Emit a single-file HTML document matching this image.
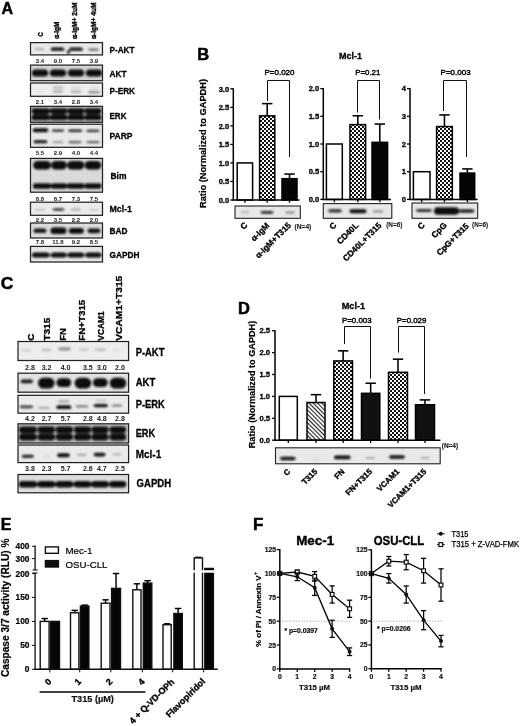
<!DOCTYPE html>
<html><head><meta charset="utf-8"><title>Figure</title>
<style>html,body{margin:0;padding:0;background:#fff}svg{display:block}</style></head><body>
<svg width="520" height="726" viewBox="0 0 520 726" font-family='"Liberation Sans", sans-serif'>
<defs>
<filter id="b1" x="-20%" y="-50%" width="140%" height="200%"><feGaussianBlur stdDeviation="0.8"/></filter>
<filter id="b2" x="-20%" y="-50%" width="140%" height="200%"><feGaussianBlur stdDeviation="0.6"/></filter>
<filter id="tb" x="-5%" y="-5%" width="110%" height="110%"><feGaussianBlur stdDeviation="0.3"/></filter>
<pattern id="chk" width="4" height="4" patternUnits="userSpaceOnUse"><rect width="4" height="4" fill="#fff"/><rect width="2" height="2" fill="#111"/><rect x="2" y="2" width="2" height="2" fill="#111"/></pattern>
<pattern id="hat" width="3" height="3" patternUnits="userSpaceOnUse" patternTransform="rotate(45)"><rect width="3" height="3" fill="#fff"/><rect width="3" height="1.1" fill="#222"/></pattern>
</defs>
<rect width="520" height="726" fill="#fff"/>
<text x="1.4" y="13.6" font-size="16" font-weight="bold" fill="#000" stroke="#000" stroke-width="0.5">A</text>
<text x="43.5" y="36.4" font-size="7.3" font-weight="bold" transform="rotate(-90 43.5 36.4)" textLength="4.2" lengthAdjust="spacingAndGlyphs" fill="#000" stroke="#000" stroke-width="0.4">C</text>
<text x="59.3" y="38.8" font-size="7.3" font-weight="bold" transform="rotate(-90 59.3 38.8)" textLength="17.2" lengthAdjust="spacingAndGlyphs" fill="#000" stroke="#000" stroke-width="0.4">α-IgM</text>
<text x="77.2" y="39.0" font-size="7.3" font-weight="bold" transform="rotate(-90 77.2 39.0)" textLength="36.5" lengthAdjust="spacingAndGlyphs" fill="#000" stroke="#000" stroke-width="0.4">α-IgM+ 2uM</text>
<text x="96.2" y="39.0" font-size="7.3" font-weight="bold" transform="rotate(-90 96.2 39.0)" textLength="36.5" lengthAdjust="spacingAndGlyphs" fill="#000" stroke="#000" stroke-width="0.4">α-IgM+ 4uM</text>
<clipPath id="c1"><rect x="30.5" y="42.6" width="72.00" height="12.30"/></clipPath>
<rect x="30.50" y="42.60" width="72.00" height="12.30" fill="#e9e9e9" stroke="none" stroke-width="1"/>
<g clip-path="url(#c1)"><g filter="url(#b1)">
<rect x="34.00" y="48.30" width="11.00" height="1.60" rx="2.20" ry="0.80" fill="#0a0a0a" opacity="0.3"/>
<rect x="50.70" y="47.60" width="13.60" height="3.20" rx="2.20" ry="1.60" fill="#0a0a0a" opacity="1.0"/>
<rect x="52.00" y="48.20" width="11.00" height="2.00" rx="2.20" ry="1.00" fill="#0a0a0a" opacity="0.9"/>
<rect x="69.00" y="47.60" width="14.00" height="3.20" rx="2.20" ry="1.60" fill="#0a0a0a" opacity="0.95"/>
<rect x="71.00" y="48.20" width="10.00" height="2.00" rx="2.20" ry="1.00" fill="#0a0a0a" opacity="0.6"/>
<rect x="66.80" y="50.30" width="3.40" height="3.40" rx="1.70" ry="1.70" fill="#0a0a0a" opacity="1.0"/>
<rect x="88.00" y="48.30" width="11.00" height="2.60" rx="2.20" ry="1.30" fill="#0a0a0a" opacity="0.45"/>
</g></g>
<rect x="30.50" y="42.60" width="72.00" height="12.30" fill="none" stroke="#222" stroke-width="1.25"/>
<text x="109.5" y="53.3" font-size="9.6" font-weight="bold" textLength="25" lengthAdjust="spacingAndGlyphs" fill="#000" stroke="#000" stroke-width="0.3">P-AKT</text>
<text x="40" y="63" font-size="6.0" font-weight="bold" text-anchor="middle" fill="#222" stroke="#222" stroke-width="0.01">3.4</text>
<text x="58" y="63" font-size="6.0" font-weight="bold" text-anchor="middle" fill="#222" stroke="#222" stroke-width="0.01">9.0</text>
<text x="76" y="63" font-size="6.0" font-weight="bold" text-anchor="middle" fill="#222" stroke="#222" stroke-width="0.01">7.5</text>
<text x="94" y="63" font-size="6.0" font-weight="bold" text-anchor="middle" fill="#222" stroke="#222" stroke-width="0.01">3.9</text>
<clipPath id="c2"><rect x="30.5" y="65.1" width="72.00" height="15.60"/></clipPath>
<rect x="30.50" y="65.10" width="72.00" height="15.60" fill="#d6d6d6" stroke="none" stroke-width="1"/>
<g clip-path="url(#c2)"><g filter="url(#b1)">
<rect x="31.80" y="69.40" width="16.40" height="7.20" rx="3.60" ry="3.60" fill="#0a0a0a" opacity="1.0"/>
<rect x="49.80" y="69.40" width="16.40" height="7.20" rx="3.60" ry="3.60" fill="#0a0a0a" opacity="1.0"/>
<rect x="67.80" y="69.40" width="16.40" height="7.20" rx="3.60" ry="3.60" fill="#0a0a0a" opacity="1.0"/>
<rect x="85.80" y="69.40" width="16.40" height="7.20" rx="3.60" ry="3.60" fill="#0a0a0a" opacity="1.0"/>
<rect x="33.00" y="70.40" width="14.00" height="5.20" rx="2.60" ry="2.60" fill="#0a0a0a" opacity="1.0"/>
<rect x="51.00" y="70.40" width="14.00" height="5.20" rx="2.60" ry="2.60" fill="#0a0a0a" opacity="1.0"/>
<rect x="69.00" y="70.40" width="14.00" height="5.20" rx="2.60" ry="2.60" fill="#0a0a0a" opacity="1.0"/>
<rect x="87.00" y="70.40" width="14.00" height="5.20" rx="2.60" ry="2.60" fill="#0a0a0a" opacity="1.0"/>
</g></g>
<rect x="30.50" y="65.10" width="72.00" height="15.60" fill="none" stroke="#222" stroke-width="1.25"/>
<text x="109.5" y="77" font-size="9.6" font-weight="bold" textLength="17" lengthAdjust="spacingAndGlyphs" fill="#000" stroke="#000" stroke-width="0.3">AKT</text>
<clipPath id="c3"><rect x="30.5" y="83" width="72.00" height="13.30"/></clipPath>
<rect x="30.50" y="83.00" width="72.00" height="13.30" fill="#eeeeee" stroke="none" stroke-width="1"/>
<g clip-path="url(#c3)"><g filter="url(#b1)">
<rect x="52.50" y="86.60" width="11.00" height="1.80" rx="2.20" ry="0.90" fill="#0a0a0a" opacity="0.28"/>
<rect x="52.50" y="90.50" width="11.00" height="2.00" rx="2.20" ry="1.00" fill="#0a0a0a" opacity="0.35"/>
<rect x="71.00" y="87.20" width="10.00" height="1.60" rx="2.20" ry="0.80" fill="#0a0a0a" opacity="0.15"/>
<rect x="70.50" y="90.80" width="11.00" height="2.00" rx="2.20" ry="1.00" fill="#0a0a0a" opacity="0.32"/>
<rect x="89.00" y="87.70" width="10.00" height="1.60" rx="2.20" ry="0.80" fill="#0a0a0a" opacity="0.15"/>
<rect x="88.00" y="91.00" width="12.00" height="2.60" rx="2.20" ry="1.30" fill="#0a0a0a" opacity="0.4"/>
<rect x="35.00" y="90.70" width="10.00" height="1.60" rx="2.20" ry="0.80" fill="#0a0a0a" opacity="0.08"/>
</g></g>
<rect x="30.50" y="83.00" width="72.00" height="13.30" fill="none" stroke="#222" stroke-width="1.25"/>
<text x="109.5" y="94" font-size="9.6" font-weight="bold" textLength="25.5" lengthAdjust="spacingAndGlyphs" fill="#000" stroke="#000" stroke-width="0.3">P-ERK</text>
<text x="40" y="104" font-size="6.0" font-weight="bold" text-anchor="middle" fill="#222" stroke="#222" stroke-width="0.01">2.1</text>
<text x="58" y="104" font-size="6.0" font-weight="bold" text-anchor="middle" fill="#222" stroke="#222" stroke-width="0.01">3.4</text>
<text x="76" y="104" font-size="6.0" font-weight="bold" text-anchor="middle" fill="#222" stroke="#222" stroke-width="0.01">2.8</text>
<text x="94" y="104" font-size="6.0" font-weight="bold" text-anchor="middle" fill="#222" stroke="#222" stroke-width="0.01">3.4</text>
<clipPath id="c4"><rect x="30.5" y="106.3" width="72.00" height="16.00"/></clipPath>
<rect x="30.50" y="106.30" width="72.00" height="16.00" fill="#c2c2c2" stroke="none" stroke-width="1"/>
<g clip-path="url(#c4)"><g filter="url(#b1)">
<rect x="31.50" y="108.30" width="18.60" height="5.60" rx="2.80" ry="2.80" fill="#0a0a0a" opacity="1.0"/>
<rect x="49.90" y="108.30" width="17.60" height="5.60" rx="2.80" ry="2.80" fill="#0a0a0a" opacity="1.0"/>
<rect x="67.30" y="108.30" width="17.50" height="5.60" rx="2.80" ry="2.80" fill="#0a0a0a" opacity="1.0"/>
<rect x="84.60" y="108.30" width="16.90" height="5.60" rx="2.80" ry="2.80" fill="#0a0a0a" opacity="1.0"/>
<rect x="31.50" y="114.50" width="18.60" height="5.80" rx="2.90" ry="2.90" fill="#0a0a0a" opacity="1.0"/>
<rect x="49.90" y="114.50" width="17.60" height="5.80" rx="2.90" ry="2.90" fill="#0a0a0a" opacity="1.0"/>
<rect x="67.30" y="114.50" width="17.50" height="5.80" rx="2.90" ry="2.90" fill="#0a0a0a" opacity="1.0"/>
<rect x="84.60" y="114.50" width="16.90" height="5.80" rx="2.90" ry="2.90" fill="#0a0a0a" opacity="1.0"/>
<rect x="32.80" y="109.10" width="16.00" height="4.00" rx="2.20" ry="2.00" fill="#0a0a0a" opacity="1.0"/>
<rect x="51.20" y="109.10" width="15.00" height="4.00" rx="2.20" ry="2.00" fill="#0a0a0a" opacity="1.0"/>
<rect x="68.60" y="109.10" width="14.90" height="4.00" rx="2.20" ry="2.00" fill="#0a0a0a" opacity="1.0"/>
<rect x="85.90" y="109.10" width="14.30" height="4.00" rx="2.20" ry="2.00" fill="#0a0a0a" opacity="1.0"/>
<rect x="32.80" y="115.30" width="16.00" height="4.20" rx="2.20" ry="2.10" fill="#0a0a0a" opacity="1.0"/>
<rect x="51.20" y="115.30" width="15.00" height="4.20" rx="2.20" ry="2.10" fill="#0a0a0a" opacity="1.0"/>
<rect x="68.60" y="115.30" width="14.90" height="4.20" rx="2.20" ry="2.10" fill="#0a0a0a" opacity="1.0"/>
<rect x="85.90" y="115.30" width="14.30" height="4.20" rx="2.20" ry="2.10" fill="#0a0a0a" opacity="1.0"/>
<rect x="33.50" y="112.90" width="14.60" height="2.60" rx="2.20" ry="1.30" fill="#0a0a0a" opacity="0.6"/>
<rect x="51.90" y="112.90" width="13.60" height="2.60" rx="2.20" ry="1.30" fill="#0a0a0a" opacity="0.6"/>
<rect x="69.30" y="112.90" width="13.50" height="2.60" rx="2.20" ry="1.30" fill="#0a0a0a" opacity="0.6"/>
<rect x="86.60" y="112.90" width="12.90" height="2.60" rx="2.20" ry="1.30" fill="#0a0a0a" opacity="0.6"/>
</g></g>
<rect x="30.50" y="106.30" width="72.00" height="16.00" fill="none" stroke="#222" stroke-width="1.25"/>
<text x="109.5" y="119.3" font-size="9.6" font-weight="bold" textLength="17" lengthAdjust="spacingAndGlyphs" fill="#000" stroke="#000" stroke-width="0.3">ERK</text>
<clipPath id="c5"><rect x="30.5" y="124.2" width="72.00" height="23.10"/></clipPath>
<rect x="30.50" y="124.20" width="72.00" height="23.10" fill="#e9e9e9" stroke="none" stroke-width="1"/>
<g clip-path="url(#c5)"><g filter="url(#b1)">
<rect x="32.70" y="128.30" width="15.60" height="4.00" rx="2.20" ry="2.00" fill="#0a0a0a" opacity="1.0"/>
<rect x="34.00" y="129.00" width="13.00" height="2.60" rx="2.20" ry="1.30" fill="#0a0a0a" opacity="0.9"/>
<rect x="51.70" y="129.50" width="12.60" height="2.20" rx="2.20" ry="1.10" fill="#0a0a0a" opacity="0.85"/>
<rect x="68.20" y="129.50" width="14.00" height="2.40" rx="2.20" ry="1.20" fill="#0a0a0a" opacity="0.9"/>
<rect x="86.40" y="129.70" width="13.20" height="2.40" rx="2.20" ry="1.20" fill="#0a0a0a" opacity="0.85"/>
<rect x="33.50" y="140.20" width="14.00" height="3.00" rx="2.20" ry="1.50" fill="#0a0a0a" opacity="0.95"/>
<rect x="34.00" y="140.80" width="10.00" height="1.80" rx="2.20" ry="0.90" fill="#0a0a0a" opacity="0.6"/>
<rect x="52.50" y="141.30" width="11.00" height="1.80" rx="2.20" ry="0.90" fill="#0a0a0a" opacity="0.38"/>
<rect x="68.40" y="141.00" width="13.20" height="2.20" rx="2.20" ry="1.10" fill="#0a0a0a" opacity="0.65"/>
<rect x="86.40" y="141.10" width="13.20" height="2.20" rx="2.20" ry="1.10" fill="#0a0a0a" opacity="0.6"/>
</g></g>
<rect x="30.50" y="124.20" width="72.00" height="23.10" fill="none" stroke="#222" stroke-width="1.25"/>
<text x="109.5" y="138.8" font-size="9.6" font-weight="bold" textLength="23" lengthAdjust="spacingAndGlyphs" fill="#000" stroke="#000" stroke-width="0.3">PARP</text>
<text x="40" y="155.2" font-size="6.0" font-weight="bold" text-anchor="middle" fill="#222" stroke="#222" stroke-width="0.01">5.5</text>
<text x="58" y="155.2" font-size="6.0" font-weight="bold" text-anchor="middle" fill="#222" stroke="#222" stroke-width="0.01">2.9</text>
<text x="76" y="155.2" font-size="6.0" font-weight="bold" text-anchor="middle" fill="#222" stroke="#222" stroke-width="0.01">4.0</text>
<text x="94" y="155.2" font-size="6.0" font-weight="bold" text-anchor="middle" fill="#222" stroke="#222" stroke-width="0.01">4.4</text>
<clipPath id="c6"><rect x="30.5" y="158.4" width="72.00" height="33.80"/></clipPath>
<rect x="30.50" y="158.40" width="72.00" height="33.80" fill="#dadada" stroke="none" stroke-width="1"/>
<g clip-path="url(#c6)"><g filter="url(#b1)">
<rect x="33.20" y="161.00" width="17.70" height="8.40" rx="4.20" ry="4.20" fill="#0a0a0a" opacity="1.0"/>
<rect x="51.20" y="161.00" width="15.60" height="8.40" rx="4.20" ry="4.20" fill="#0a0a0a" opacity="1.0"/>
<rect x="67.20" y="161.00" width="17.10" height="8.40" rx="4.20" ry="4.20" fill="#0a0a0a" opacity="1.0"/>
<rect x="84.70" y="161.00" width="16.60" height="8.40" rx="4.20" ry="4.20" fill="#0a0a0a" opacity="1.0"/>
<rect x="34.50" y="162.00" width="15.10" height="6.40" rx="3.20" ry="3.20" fill="#0a0a0a" opacity="1.0"/>
<rect x="52.50" y="162.00" width="13.00" height="6.40" rx="3.20" ry="3.20" fill="#0a0a0a" opacity="1.0"/>
<rect x="68.50" y="162.00" width="14.50" height="6.40" rx="3.20" ry="3.20" fill="#0a0a0a" opacity="1.0"/>
<rect x="86.00" y="162.00" width="14.00" height="6.40" rx="3.20" ry="3.20" fill="#0a0a0a" opacity="1.0"/>
<rect x="32.90" y="183.30" width="18.30" height="5.40" rx="2.70" ry="2.70" fill="#0a0a0a" opacity="1.0"/>
<rect x="50.90" y="183.30" width="16.20" height="5.40" rx="2.70" ry="2.70" fill="#0a0a0a" opacity="1.0"/>
<rect x="66.90" y="183.30" width="17.70" height="5.40" rx="2.70" ry="2.70" fill="#0a0a0a" opacity="1.0"/>
<rect x="84.40" y="183.30" width="17.20" height="5.40" rx="2.70" ry="2.70" fill="#0a0a0a" opacity="1.0"/>
<rect x="34.10" y="184.20" width="15.90" height="3.60" rx="2.20" ry="1.80" fill="#0a0a0a" opacity="0.9"/>
<rect x="52.10" y="184.20" width="13.80" height="3.60" rx="2.20" ry="1.80" fill="#0a0a0a" opacity="0.9"/>
<rect x="68.10" y="184.20" width="15.30" height="3.60" rx="2.20" ry="1.80" fill="#0a0a0a" opacity="0.9"/>
<rect x="85.60" y="184.20" width="14.80" height="3.60" rx="2.20" ry="1.80" fill="#0a0a0a" opacity="0.9"/>
<rect x="33.00" y="184.80" width="68.00" height="2.40" rx="2.20" ry="1.20" fill="#0a0a0a" opacity="0.7"/>
</g></g>
<rect x="30.50" y="158.40" width="72.00" height="33.80" fill="none" stroke="#222" stroke-width="1.25"/>
<text x="110.5" y="178.8" font-size="9.6" font-weight="bold" textLength="16" lengthAdjust="spacingAndGlyphs" fill="#000" stroke="#000" stroke-width="0.3">Bim</text>
<text x="40" y="200.8" font-size="6.0" font-weight="bold" text-anchor="middle" fill="#222" stroke="#222" stroke-width="0.01">8.8</text>
<text x="58" y="200.8" font-size="6.0" font-weight="bold" text-anchor="middle" fill="#222" stroke="#222" stroke-width="0.01">8.7</text>
<text x="76" y="200.8" font-size="6.0" font-weight="bold" text-anchor="middle" fill="#222" stroke="#222" stroke-width="0.01">7.3</text>
<text x="94" y="200.8" font-size="6.0" font-weight="bold" text-anchor="middle" fill="#222" stroke="#222" stroke-width="0.01">7.5</text>
<clipPath id="c7"><rect x="30.5" y="202.2" width="72.00" height="13.10"/></clipPath>
<rect x="30.50" y="202.20" width="72.00" height="13.10" fill="#ebebeb" stroke="none" stroke-width="1"/>
<g clip-path="url(#c7)"><g filter="url(#b1)">
<rect x="35.00" y="208.70" width="10.00" height="1.80" rx="2.20" ry="0.90" fill="#0a0a0a" opacity="0.2"/>
<rect x="52.50" y="208.10" width="12.00" height="2.80" rx="2.20" ry="1.40" fill="#0a0a0a" opacity="0.6"/>
<rect x="54.00" y="208.70" width="9.00" height="1.60" rx="2.20" ry="0.80" fill="#0a0a0a" opacity="0.35"/>
<rect x="71.00" y="208.60" width="10.00" height="2.00" rx="2.20" ry="1.00" fill="#0a0a0a" opacity="0.3"/>
<rect x="89.00" y="208.90" width="10.00" height="1.80" rx="2.20" ry="0.90" fill="#0a0a0a" opacity="0.16"/>
</g></g>
<rect x="30.50" y="202.20" width="72.00" height="13.10" fill="none" stroke="#222" stroke-width="1.25"/>
<text x="109.5" y="211.8" font-size="9.6" font-weight="bold" textLength="22.5" lengthAdjust="spacingAndGlyphs" fill="#000" stroke="#000" stroke-width="0.3">Mcl-1</text>
<text x="40" y="222.2" font-size="6.0" font-weight="bold" text-anchor="middle" fill="#222" stroke="#222" stroke-width="0.01">2.2</text>
<text x="58" y="222.2" font-size="6.0" font-weight="bold" text-anchor="middle" fill="#222" stroke="#222" stroke-width="0.01">3.5</text>
<text x="76" y="222.2" font-size="6.0" font-weight="bold" text-anchor="middle" fill="#222" stroke="#222" stroke-width="0.01">2.2</text>
<text x="94" y="222.2" font-size="6.0" font-weight="bold" text-anchor="middle" fill="#222" stroke="#222" stroke-width="0.01">2.0</text>
<clipPath id="c8"><rect x="30.5" y="223" width="72.00" height="15.00"/></clipPath>
<rect x="30.50" y="223.00" width="72.00" height="15.00" fill="#dcdcdc" stroke="none" stroke-width="1"/>
<g clip-path="url(#c8)"><g filter="url(#b1)">
<rect x="33.50" y="228.60" width="13.00" height="4.40" rx="2.20" ry="2.20" fill="#0a0a0a" opacity="0.9"/>
<rect x="34.50" y="229.40" width="11.00" height="2.80" rx="2.20" ry="1.40" fill="#0a0a0a" opacity="0.7"/>
<rect x="50.50" y="227.60" width="16.00" height="6.40" rx="3.20" ry="3.20" fill="#0a0a0a" opacity="1.0"/>
<rect x="51.70" y="228.40" width="13.60" height="4.80" rx="2.40" ry="2.40" fill="#0a0a0a" opacity="1.0"/>
<rect x="68.80" y="227.90" width="15.00" height="5.80" rx="2.90" ry="2.90" fill="#0a0a0a" opacity="1.0"/>
<rect x="70.10" y="228.80" width="12.40" height="4.00" rx="2.20" ry="2.00" fill="#0a0a0a" opacity="0.9"/>
<rect x="87.50" y="228.40" width="13.00" height="4.80" rx="2.40" ry="2.40" fill="#0a0a0a" opacity="0.95"/>
<rect x="88.50" y="229.30" width="11.00" height="3.00" rx="2.20" ry="1.50" fill="#0a0a0a" opacity="0.8"/>
</g></g>
<rect x="30.50" y="223.00" width="72.00" height="15.00" fill="none" stroke="#222" stroke-width="1.25"/>
<text x="109.5" y="233.6" font-size="9.6" font-weight="bold" textLength="18" lengthAdjust="spacingAndGlyphs" fill="#000" stroke="#000" stroke-width="0.3">BAD</text>
<text x="40" y="244" font-size="6.0" font-weight="bold" text-anchor="middle" fill="#222" stroke="#222" stroke-width="0.01">7.8</text>
<text x="58" y="244" font-size="6.0" font-weight="bold" text-anchor="middle" fill="#222" stroke="#222" stroke-width="0.01">11.8</text>
<text x="76" y="244" font-size="6.0" font-weight="bold" text-anchor="middle" fill="#222" stroke="#222" stroke-width="0.01">9.2</text>
<text x="94" y="244" font-size="6.0" font-weight="bold" text-anchor="middle" fill="#222" stroke="#222" stroke-width="0.01">8.5</text>
<clipPath id="c9"><rect x="30.5" y="246.4" width="72.00" height="15.60"/></clipPath>
<rect x="30.50" y="246.40" width="72.00" height="15.60" fill="#e6e6e6" stroke="none" stroke-width="1"/>
<g clip-path="url(#c9)"><g filter="url(#b1)">
<rect x="32.00" y="252.50" width="17.50" height="5.00" rx="2.50" ry="2.50" fill="#0a0a0a" opacity="1.0"/>
<rect x="51.00" y="252.50" width="15.50" height="5.00" rx="2.50" ry="2.50" fill="#0a0a0a" opacity="1.0"/>
<rect x="67.50" y="252.50" width="16.50" height="5.00" rx="2.50" ry="2.50" fill="#0a0a0a" opacity="1.0"/>
<rect x="85.50" y="252.50" width="16.00" height="5.00" rx="2.50" ry="2.50" fill="#0a0a0a" opacity="1.0"/>
<rect x="33.00" y="253.40" width="15.50" height="3.20" rx="2.20" ry="1.60" fill="#0a0a0a" opacity="0.9"/>
<rect x="52.00" y="253.40" width="13.50" height="3.20" rx="2.20" ry="1.60" fill="#0a0a0a" opacity="0.9"/>
<rect x="68.50" y="253.40" width="14.50" height="3.20" rx="2.20" ry="1.60" fill="#0a0a0a" opacity="0.9"/>
<rect x="86.50" y="253.40" width="14.00" height="3.20" rx="2.20" ry="1.60" fill="#0a0a0a" opacity="0.9"/>
<rect x="31.50" y="254.00" width="70.00" height="2.00" rx="2.20" ry="1.00" fill="#0a0a0a" opacity="0.7"/>
</g></g>
<rect x="30.50" y="246.40" width="72.00" height="15.60" fill="none" stroke="#222" stroke-width="1.25"/>
<text x="109.5" y="258" font-size="9.6" font-weight="bold" textLength="30" lengthAdjust="spacingAndGlyphs" fill="#000" stroke="#000" stroke-width="0.3">GAPDH</text>
<text x="197.3" y="60" font-size="16.5" font-weight="bold" fill="#000" stroke="#000" stroke-width="0.5">B</text>
<text x="350.5" y="59.2" font-size="9.2" font-weight="bold" text-anchor="middle" textLength="23" lengthAdjust="spacingAndGlyphs" fill="#000" stroke="#000" stroke-width="0.3">Mcl-1</text>
<text x="206" y="143.5" font-size="9.2" font-weight="bold" text-anchor="middle" transform="rotate(-90 206 143.5)" textLength="129" lengthAdjust="spacingAndGlyphs" fill="#000" stroke="#000" stroke-width="0.2">Ratio (Normalized to GAPDH)</text>
<rect x="237.20" y="162.93" width="15.40" height="37.07" fill="#fff" stroke="#000" stroke-width="1.5"/>
<line x1="244.89999999999998" y1="200" x2="244.89999999999998" y2="202.8" stroke="#000" stroke-width="1.3"/>
<line x1="267.20000000000005" y1="103.62666666666665" x2="267.20000000000005" y2="115.85866666666666" stroke="#000" stroke-width="1.55"/>
<line x1="262.00000000000006" y1="103.62666666666665" x2="272.40000000000003" y2="103.62666666666665" stroke="#000" stroke-width="1.55"/>
<rect x="259.60" y="115.86" width="15.20" height="84.14" fill="url(#chk)" stroke="#000" stroke-width="1.5"/>
<line x1="267.20000000000005" y1="200" x2="267.20000000000005" y2="202.8" stroke="#000" stroke-width="1.3"/>
<line x1="289.5" y1="174.05333333333334" x2="289.5" y2="178.68666666666667" stroke="#000" stroke-width="1.55"/>
<line x1="284.3" y1="174.05333333333334" x2="294.7" y2="174.05333333333334" stroke="#000" stroke-width="1.55"/>
<rect x="282.00" y="178.69" width="15.00" height="21.31" fill="#050505" stroke="#000" stroke-width="1.5"/>
<line x1="289.5" y1="200" x2="289.5" y2="202.8" stroke="#000" stroke-width="1.3"/>
<line x1="233.3" y1="88.3" x2="233.3" y2="200.7" stroke="#000" stroke-width="1.5"/>
<line x1="232.60000000000002" y1="200" x2="299.5" y2="200" stroke="#000" stroke-width="1.5"/>
<line x1="230.3" y1="200.0" x2="233.3" y2="200.0" stroke="#000" stroke-width="1.3"/>
<text x="229.2" y="202.7" font-size="7.6" font-weight="bold" text-anchor="end" fill="#000" stroke="#000" stroke-width="0.3">0.0</text>
<line x1="230.3" y1="181.46666666666667" x2="233.3" y2="181.46666666666667" stroke="#000" stroke-width="1.3"/>
<text x="229.2" y="184.16666666666666" font-size="7.6" font-weight="bold" text-anchor="end" fill="#000" stroke="#000" stroke-width="0.3">0.5</text>
<line x1="230.3" y1="162.93333333333334" x2="233.3" y2="162.93333333333334" stroke="#000" stroke-width="1.3"/>
<text x="229.2" y="165.63333333333333" font-size="7.6" font-weight="bold" text-anchor="end" fill="#000" stroke="#000" stroke-width="0.3">1.0</text>
<line x1="230.3" y1="144.39999999999998" x2="233.3" y2="144.39999999999998" stroke="#000" stroke-width="1.3"/>
<text x="229.2" y="147.09999999999997" font-size="7.6" font-weight="bold" text-anchor="end" fill="#000" stroke="#000" stroke-width="0.3">1.5</text>
<line x1="230.3" y1="125.86666666666666" x2="233.3" y2="125.86666666666666" stroke="#000" stroke-width="1.3"/>
<text x="229.2" y="128.56666666666666" font-size="7.6" font-weight="bold" text-anchor="end" fill="#000" stroke="#000" stroke-width="0.3">2.0</text>
<line x1="230.3" y1="107.33333333333333" x2="233.3" y2="107.33333333333333" stroke="#000" stroke-width="1.3"/>
<text x="229.2" y="110.03333333333333" font-size="7.6" font-weight="bold" text-anchor="end" fill="#000" stroke="#000" stroke-width="0.3">2.5</text>
<line x1="230.3" y1="88.79999999999998" x2="233.3" y2="88.79999999999998" stroke="#000" stroke-width="1.3"/>
<text x="229.2" y="91.49999999999999" font-size="7.6" font-weight="bold" text-anchor="end" fill="#000" stroke="#000" stroke-width="0.3">3.0</text>
<text x="279.5" y="75.2" font-size="7.6" text-anchor="middle" textLength="30" lengthAdjust="spacingAndGlyphs" fill="#000" stroke="#000" stroke-width="0.4">P=0.020</text>
<polyline points="267.5,101 267.5,80.5 289.5,80.5 289.5,157" fill="none" stroke="#111" stroke-width="1.0"/>
<rect x="326.40" y="144.00" width="15.90" height="55.40" fill="#fff" stroke="#000" stroke-width="1.5"/>
<line x1="334.35" y1="199.4" x2="334.35" y2="202.20000000000002" stroke="#000" stroke-width="1.3"/>
<line x1="357.8" y1="115.746" x2="357.8" y2="124.61" stroke="#000" stroke-width="1.55"/>
<line x1="352.6" y1="115.746" x2="363.0" y2="115.746" stroke="#000" stroke-width="1.55"/>
<rect x="350.00" y="124.61" width="15.60" height="74.79" fill="url(#chk)" stroke="#000" stroke-width="1.5"/>
<line x1="357.8" y1="199.4" x2="357.8" y2="202.20000000000002" stroke="#000" stroke-width="1.3"/>
<line x1="379.8" y1="124.056" x2="379.8" y2="142.338" stroke="#000" stroke-width="1.55"/>
<line x1="374.6" y1="124.056" x2="385.0" y2="124.056" stroke="#000" stroke-width="1.55"/>
<rect x="372.00" y="142.34" width="15.60" height="57.06" fill="#050505" stroke="#000" stroke-width="1.5"/>
<line x1="379.8" y1="199.4" x2="379.8" y2="202.20000000000002" stroke="#000" stroke-width="1.3"/>
<line x1="323.3" y1="88.1" x2="323.3" y2="200.1" stroke="#000" stroke-width="1.5"/>
<line x1="322.6" y1="199.4" x2="391" y2="199.4" stroke="#000" stroke-width="1.5"/>
<line x1="320.3" y1="199.4" x2="323.3" y2="199.4" stroke="#000" stroke-width="1.3"/>
<text x="319.2" y="202.1" font-size="7.6" font-weight="bold" text-anchor="end" fill="#000" stroke="#000" stroke-width="0.3">0.0</text>
<line x1="320.3" y1="171.7" x2="323.3" y2="171.7" stroke="#000" stroke-width="1.3"/>
<text x="319.2" y="174.39999999999998" font-size="7.6" font-weight="bold" text-anchor="end" fill="#000" stroke="#000" stroke-width="0.3">0.5</text>
<line x1="320.3" y1="144.0" x2="323.3" y2="144.0" stroke="#000" stroke-width="1.3"/>
<text x="319.2" y="146.7" font-size="7.6" font-weight="bold" text-anchor="end" fill="#000" stroke="#000" stroke-width="0.3">1.0</text>
<line x1="320.3" y1="116.3" x2="323.3" y2="116.3" stroke="#000" stroke-width="1.3"/>
<text x="319.2" y="119.0" font-size="7.6" font-weight="bold" text-anchor="end" fill="#000" stroke="#000" stroke-width="0.3">1.5</text>
<line x1="320.3" y1="88.6" x2="323.3" y2="88.6" stroke="#000" stroke-width="1.3"/>
<text x="319.2" y="91.3" font-size="7.6" font-weight="bold" text-anchor="end" fill="#000" stroke="#000" stroke-width="0.3">2.0</text>
<text x="367.8" y="75.2" font-size="7.6" text-anchor="middle" textLength="25" lengthAdjust="spacingAndGlyphs" fill="#000" stroke="#000" stroke-width="0.4">P=0.21</text>
<polyline points="357.5,112.5 357.5,80.5 379.5,80.5 379.5,119.5" fill="none" stroke="#111" stroke-width="1.0"/>
<rect x="413.40" y="171.70" width="16.60" height="27.70" fill="#fff" stroke="#000" stroke-width="1.5"/>
<line x1="421.7" y1="199.4" x2="421.7" y2="202.20000000000002" stroke="#000" stroke-width="1.3"/>
<line x1="444.45000000000005" y1="114.915" x2="444.45000000000005" y2="126.549" stroke="#000" stroke-width="1.55"/>
<line x1="439.25000000000006" y1="114.915" x2="449.65000000000003" y2="114.915" stroke="#000" stroke-width="1.55"/>
<rect x="436.60" y="126.55" width="15.70" height="72.85" fill="url(#chk)" stroke="#000" stroke-width="1.5"/>
<line x1="444.45000000000005" y1="199.4" x2="444.45000000000005" y2="202.20000000000002" stroke="#000" stroke-width="1.3"/>
<line x1="467.35" y1="168.93" x2="467.35" y2="173.085" stroke="#000" stroke-width="1.55"/>
<line x1="462.15000000000003" y1="168.93" x2="472.55" y2="168.93" stroke="#000" stroke-width="1.55"/>
<rect x="460.00" y="173.09" width="14.70" height="26.31" fill="#050505" stroke="#000" stroke-width="1.5"/>
<line x1="467.35" y1="199.4" x2="467.35" y2="202.20000000000002" stroke="#000" stroke-width="1.3"/>
<line x1="410" y1="88.1" x2="410" y2="200.1" stroke="#000" stroke-width="1.5"/>
<line x1="409.3" y1="199.4" x2="477.7" y2="199.4" stroke="#000" stroke-width="1.5"/>
<line x1="407" y1="199.4" x2="410" y2="199.4" stroke="#000" stroke-width="1.3"/>
<text x="406" y="202.1" font-size="7.6" font-weight="bold" text-anchor="end" fill="#000" stroke="#000" stroke-width="0.3">0</text>
<line x1="407" y1="171.7" x2="410" y2="171.7" stroke="#000" stroke-width="1.3"/>
<text x="406" y="174.39999999999998" font-size="7.6" font-weight="bold" text-anchor="end" fill="#000" stroke="#000" stroke-width="0.3">1</text>
<line x1="407" y1="144.0" x2="410" y2="144.0" stroke="#000" stroke-width="1.3"/>
<text x="406" y="146.7" font-size="7.6" font-weight="bold" text-anchor="end" fill="#000" stroke="#000" stroke-width="0.3">2</text>
<line x1="407" y1="116.3" x2="410" y2="116.3" stroke="#000" stroke-width="1.3"/>
<text x="406" y="119.0" font-size="7.6" font-weight="bold" text-anchor="end" fill="#000" stroke="#000" stroke-width="0.3">3</text>
<line x1="407" y1="88.6" x2="410" y2="88.6" stroke="#000" stroke-width="1.3"/>
<text x="406" y="91.3" font-size="7.6" font-weight="bold" text-anchor="end" fill="#000" stroke="#000" stroke-width="0.3">4</text>
<text x="455.6" y="75.2" font-size="7.6" text-anchor="middle" textLength="30" lengthAdjust="spacingAndGlyphs" fill="#000" stroke="#000" stroke-width="0.4">P=0.003</text>
<polyline points="443.5,111 443.5,80.5 466.5,80.5 466.5,157" fill="none" stroke="#111" stroke-width="1.0"/>
<clipPath id="c10"><rect x="235" y="206" width="65.30" height="12.30"/></clipPath>
<rect x="235.00" y="206.00" width="65.30" height="12.30" fill="#e8e8e8" stroke="none" stroke-width="1"/>
<g clip-path="url(#c10)"><g filter="url(#b1)">
<rect x="240.50" y="211.50" width="9.00" height="1.60" rx="2.20" ry="0.80" fill="#0a0a0a" opacity="0.3"/>
<rect x="260.50" y="210.90" width="13.00" height="2.80" rx="2.20" ry="1.40" fill="#0a0a0a" opacity="0.9"/>
<rect x="285.00" y="211.60" width="10.00" height="1.80" rx="2.20" ry="0.90" fill="#0a0a0a" opacity="0.45"/>
</g></g>
<rect x="235.00" y="206.00" width="65.30" height="12.30" fill="none" stroke="#222" stroke-width="1.1"/>
<clipPath id="c11"><rect x="323.3" y="203.6" width="68.50" height="14.70"/></clipPath>
<rect x="323.30" y="203.60" width="68.50" height="14.70" fill="#e8e8e8" stroke="none" stroke-width="1"/>
<g clip-path="url(#c11)"><g filter="url(#b1)">
<rect x="328.00" y="209.20" width="14.00" height="3.20" rx="2.20" ry="1.60" fill="#0a0a0a" opacity="0.8"/>
<rect x="330.00" y="209.80" width="10.00" height="2.00" rx="2.20" ry="1.00" fill="#0a0a0a" opacity="0.4"/>
<rect x="349.50" y="209.20" width="17.00" height="4.00" rx="2.20" ry="2.00" fill="#0a0a0a" opacity="1.0"/>
<rect x="351.50" y="209.90" width="13.00" height="2.60" rx="2.20" ry="1.30" fill="#0a0a0a" opacity="0.9"/>
<rect x="372.50" y="210.40" width="11.00" height="2.00" rx="2.20" ry="1.00" fill="#0a0a0a" opacity="0.42"/>
</g></g>
<rect x="323.30" y="203.60" width="68.50" height="14.70" fill="none" stroke="#222" stroke-width="1.1"/>
<clipPath id="c12"><rect x="412" y="203" width="65.70" height="15.30"/></clipPath>
<rect x="412.00" y="203.00" width="65.70" height="15.30" fill="#e8e8e8" stroke="none" stroke-width="1"/>
<g clip-path="url(#c12)"><g filter="url(#b1)">
<rect x="416.00" y="209.10" width="16.00" height="2.80" rx="2.20" ry="1.40" fill="#0a0a0a" opacity="0.8"/>
<rect x="418.00" y="209.60" width="12.00" height="1.80" rx="2.20" ry="0.90" fill="#0a0a0a" opacity="0.4"/>
<rect x="434.00" y="207.30" width="25.00" height="7.40" rx="3.70" ry="3.70" fill="#0a0a0a" opacity="1.0"/>
<rect x="436.00" y="208.30" width="21.00" height="5.40" rx="2.70" ry="2.70" fill="#0a0a0a" opacity="1.0"/>
<rect x="458.50" y="209.30" width="16.00" height="3.40" rx="2.20" ry="1.70" fill="#0a0a0a" opacity="0.85"/>
<rect x="460.50" y="209.90" width="12.00" height="2.20" rx="2.20" ry="1.10" fill="#0a0a0a" opacity="0.5"/>
</g></g>
<rect x="412.00" y="203.00" width="65.70" height="15.30" fill="none" stroke="#222" stroke-width="1.1"/>
<text x="248" y="225.8" font-size="8.4" font-weight="bold" text-anchor="end" transform="rotate(-45 248 225.8)" fill="#000" stroke="#000" stroke-width="0.35">C</text>
<text x="270" y="226" font-size="8.4" font-weight="bold" text-anchor="end" transform="rotate(-45 270 226)" fill="#000" stroke="#000" stroke-width="0.35">α-IgM</text>
<text x="291.5" y="226" font-size="8.4" font-weight="bold" text-anchor="end" transform="rotate(-45 291.5 226)" fill="#000" stroke="#000" stroke-width="0.35">α-IgM+T315</text>
<text x="294.5" y="229" font-size="6.4" font-weight="bold" textLength="16.8" lengthAdjust="spacingAndGlyphs" fill="#222" stroke="#222" stroke-width="0.1">(N=4)</text>
<text x="337" y="225.8" font-size="8.4" font-weight="bold" text-anchor="end" transform="rotate(-45 337 225.8)" fill="#000" stroke="#000" stroke-width="0.35">C</text>
<text x="359" y="226" font-size="8.4" font-weight="bold" text-anchor="end" transform="rotate(-45 359 226)" fill="#000" stroke="#000" stroke-width="0.35">CD40L</text>
<text x="382" y="226" font-size="8.4" font-weight="bold" text-anchor="end" transform="rotate(-45 382 226)" fill="#000" stroke="#000" stroke-width="0.35">CD40L+T315</text>
<text x="386.2" y="227" font-size="6.4" font-weight="bold" textLength="16.2" lengthAdjust="spacingAndGlyphs" fill="#222" stroke="#222" stroke-width="0.1">(N=6)</text>
<text x="425.3" y="225.8" font-size="8.4" font-weight="bold" text-anchor="end" transform="rotate(-45 425.3 225.8)" fill="#000" stroke="#000" stroke-width="0.35">C</text>
<text x="447.3" y="226" font-size="8.4" font-weight="bold" text-anchor="end" transform="rotate(-45 447.3 226)" fill="#000" stroke="#000" stroke-width="0.35">CpG</text>
<text x="469.4" y="226.6" font-size="8.4" font-weight="bold" text-anchor="end" transform="rotate(-45 469.4 226.6)" fill="#000" stroke="#000" stroke-width="0.35">CpG+T315</text>
<text x="472" y="227" font-size="6.4" font-weight="bold" textLength="16.2" lengthAdjust="spacingAndGlyphs" fill="#222" stroke="#222" stroke-width="0.1">(N=6)</text>
<text x="0.8" y="288.5" font-size="17.4" font-weight="bold" fill="#000" stroke="#000" stroke-width="0.5">C</text>
<text x="33.8" y="340.7" font-size="9.8" font-weight="bold" transform="rotate(-90 33.8 340.7)" fill="#000" stroke="#000" stroke-width="0.3">C</text>
<text x="49.6" y="340.7" font-size="9.8" font-weight="bold" transform="rotate(-90 49.6 340.7)" textLength="23" lengthAdjust="spacingAndGlyphs" fill="#000" stroke="#000" stroke-width="0.3">T315</text>
<text x="66.3" y="340.7" font-size="9.8" font-weight="bold" transform="rotate(-90 66.3 340.7)" textLength="12.5" lengthAdjust="spacingAndGlyphs" fill="#000" stroke="#000" stroke-width="0.3">FN</text>
<text x="85" y="340.7" font-size="9.8" font-weight="bold" transform="rotate(-90 85 340.7)" textLength="41" lengthAdjust="spacingAndGlyphs" fill="#000" stroke="#000" stroke-width="0.3">FN+T315</text>
<text x="104.5" y="340.7" font-size="9.8" font-weight="bold" transform="rotate(-90 104.5 340.7)" textLength="29.5" lengthAdjust="spacingAndGlyphs" fill="#000" stroke="#000" stroke-width="0.3">VCAM1</text>
<text x="122.5" y="340.7" font-size="9.8" font-weight="bold" transform="rotate(-90 122.5 340.7)" textLength="65" lengthAdjust="spacingAndGlyphs" fill="#000" stroke="#000" stroke-width="0.3">VCAM1+T315</text>
<clipPath id="c13"><rect x="18" y="341.5" width="110.60" height="19.00"/></clipPath>
<rect x="18.00" y="341.50" width="110.60" height="19.00" fill="#ededed" stroke="none" stroke-width="1"/>
<g clip-path="url(#c13)"><g filter="url(#b1)">
<rect x="21.50" y="349.30" width="10.00" height="2.40" rx="2.20" ry="1.20" fill="#0a0a0a" opacity="0.12"/>
<rect x="41.50" y="348.60" width="10.00" height="2.80" rx="2.20" ry="1.40" fill="#0a0a0a" opacity="0.18"/>
<rect x="58.00" y="347.20" width="13.00" height="3.20" rx="2.20" ry="1.60" fill="#0a0a0a" opacity="0.38"/>
<rect x="79.00" y="348.20" width="10.00" height="2.60" rx="2.20" ry="1.30" fill="#0a0a0a" opacity="0.16"/>
<rect x="95.00" y="348.60" width="11.00" height="2.40" rx="2.20" ry="1.20" fill="#0a0a0a" opacity="0.22"/>
<rect x="113.50" y="349.50" width="8.00" height="2.00" rx="2.20" ry="1.00" fill="#0a0a0a" opacity="0.05"/>
</g></g>
<rect x="18.00" y="341.50" width="110.60" height="19.00" fill="none" stroke="#222" stroke-width="1.25"/>
<text x="135.7" y="356" font-size="11.2" font-weight="bold" textLength="28.7" lengthAdjust="spacingAndGlyphs" fill="#000" stroke="#000" stroke-width="0.3">P-AKT</text>
<text x="30" y="369.8" font-size="7.1" font-weight="bold" text-anchor="middle" fill="#222" stroke="#222" stroke-width="0.01">2.8</text>
<text x="46.6" y="369.8" font-size="7.1" font-weight="bold" text-anchor="middle" fill="#222" stroke="#222" stroke-width="0.01">3.2</text>
<text x="65.6" y="369.8" font-size="7.1" font-weight="bold" text-anchor="middle" fill="#222" stroke="#222" stroke-width="0.01">4.0</text>
<text x="87.9" y="369.8" font-size="7.1" font-weight="bold" text-anchor="middle" fill="#222" stroke="#222" stroke-width="0.01">3.5</text>
<text x="101.9" y="369.8" font-size="7.1" font-weight="bold" text-anchor="middle" fill="#222" stroke="#222" stroke-width="0.01">3.0</text>
<text x="120" y="369.8" font-size="7.1" font-weight="bold" text-anchor="middle" fill="#222" stroke="#222" stroke-width="0.01">2.0</text>
<clipPath id="c14"><rect x="18" y="373.2" width="110.60" height="19.00"/></clipPath>
<rect x="18.00" y="373.20" width="110.60" height="19.00" fill="#e2e2e2" stroke="none" stroke-width="1"/>
<g clip-path="url(#c14)"><g filter="url(#b1)">
<rect x="20.60" y="379.40" width="12.40" height="3.80" rx="2.20" ry="1.90" fill="#0a0a0a" opacity="0.9"/>
<rect x="21.80" y="380.10" width="10.00" height="2.40" rx="2.20" ry="1.20" fill="#0a0a0a" opacity="0.6"/>
<rect x="38.00" y="377.70" width="16.60" height="10.80" rx="5.40" ry="5.40" fill="#0a0a0a" opacity="1.0"/>
<rect x="74.60" y="377.70" width="16.60" height="10.80" rx="5.40" ry="5.40" fill="#0a0a0a" opacity="1.0"/>
<rect x="109.70" y="377.70" width="16.60" height="10.80" rx="5.40" ry="5.40" fill="#0a0a0a" opacity="1.0"/>
<rect x="39.00" y="378.70" width="14.60" height="8.80" rx="4.40" ry="4.40" fill="#0a0a0a" opacity="1.0"/>
<rect x="75.60" y="378.70" width="14.60" height="8.80" rx="4.40" ry="4.40" fill="#0a0a0a" opacity="1.0"/>
<rect x="110.70" y="378.70" width="14.60" height="8.80" rx="4.40" ry="4.40" fill="#0a0a0a" opacity="1.0"/>
<rect x="56.40" y="378.20" width="14.80" height="8.80" rx="4.40" ry="4.40" fill="#0a0a0a" opacity="1.0"/>
<rect x="92.90" y="378.20" width="14.80" height="8.80" rx="4.40" ry="4.40" fill="#0a0a0a" opacity="1.0"/>
<rect x="57.40" y="379.20" width="12.80" height="6.80" rx="3.40" ry="3.40" fill="#0a0a0a" opacity="1.0"/>
<rect x="93.90" y="379.20" width="12.80" height="6.80" rx="3.40" ry="3.40" fill="#0a0a0a" opacity="1.0"/>
</g></g>
<rect x="18.00" y="373.20" width="110.60" height="19.00" fill="none" stroke="#222" stroke-width="1.25"/>
<text x="135.7" y="385.6" font-size="11.2" font-weight="bold" textLength="19.5" lengthAdjust="spacingAndGlyphs" fill="#000" stroke="#000" stroke-width="0.3">AKT</text>
<clipPath id="c15"><rect x="18" y="395.3" width="110.60" height="17.90"/></clipPath>
<rect x="18.00" y="395.30" width="110.60" height="17.90" fill="#ebebeb" stroke="none" stroke-width="1"/>
<g clip-path="url(#c15)"><g filter="url(#b1)">
<rect x="19.50" y="405.40" width="13.60" height="2.80" rx="2.20" ry="1.40" fill="#0a0a0a" opacity="0.8"/>
<rect x="38.00" y="406.80" width="12.00" height="2.00" rx="2.20" ry="1.00" fill="#0a0a0a" opacity="0.3"/>
<rect x="56.30" y="405.30" width="15.00" height="3.80" rx="2.20" ry="1.90" fill="#0a0a0a" opacity="1.0"/>
<rect x="57.80" y="406.00" width="12.00" height="2.40" rx="2.20" ry="1.20" fill="#0a0a0a" opacity="0.7"/>
<rect x="57.80" y="400.20" width="12.00" height="2.20" rx="2.20" ry="1.10" fill="#0a0a0a" opacity="0.3"/>
<rect x="75.50" y="405.30" width="13.00" height="2.20" rx="2.20" ry="1.10" fill="#0a0a0a" opacity="0.5"/>
<rect x="93.60" y="403.90" width="14.40" height="3.40" rx="2.20" ry="1.70" fill="#0a0a0a" opacity="0.95"/>
<rect x="95.30" y="404.60" width="11.00" height="2.00" rx="2.20" ry="1.00" fill="#0a0a0a" opacity="0.6"/>
<rect x="95.30" y="399.80" width="11.00" height="1.80" rx="2.20" ry="0.90" fill="#0a0a0a" opacity="0.2"/>
<rect x="111.50" y="404.50" width="11.00" height="2.20" rx="2.20" ry="1.10" fill="#0a0a0a" opacity="0.45"/>
</g></g>
<rect x="18.00" y="395.30" width="110.60" height="17.90" fill="none" stroke="#222" stroke-width="1.25"/>
<text x="135.7" y="407.5" font-size="11.2" font-weight="bold" textLength="29" lengthAdjust="spacingAndGlyphs" fill="#000" stroke="#000" stroke-width="0.3">P-ERK</text>
<text x="30" y="421" font-size="7.1" font-weight="bold" text-anchor="middle" fill="#222" stroke="#222" stroke-width="0.01">4.2</text>
<text x="46.6" y="421" font-size="7.1" font-weight="bold" text-anchor="middle" fill="#222" stroke="#222" stroke-width="0.01">2.7</text>
<text x="65.6" y="421" font-size="7.1" font-weight="bold" text-anchor="middle" fill="#222" stroke="#222" stroke-width="0.01">5.7</text>
<text x="87.9" y="421" font-size="7.1" font-weight="bold" text-anchor="middle" fill="#222" stroke="#222" stroke-width="0.01">2.8</text>
<text x="101.9" y="421" font-size="7.1" font-weight="bold" text-anchor="middle" fill="#222" stroke="#222" stroke-width="0.01">4.8</text>
<text x="120" y="421" font-size="7.1" font-weight="bold" text-anchor="middle" fill="#222" stroke="#222" stroke-width="0.01">2.8</text>
<clipPath id="c16"><rect x="18" y="423.8" width="110.60" height="19.20"/></clipPath>
<rect x="18.00" y="423.80" width="110.60" height="19.20" fill="#bdbdbd" stroke="none" stroke-width="1"/>
<g clip-path="url(#c16)"><g filter="url(#b1)">
<rect x="18.90" y="426.40" width="18.00" height="6.60" rx="3.30" ry="3.30" fill="#0a0a0a" opacity="1.0"/>
<rect x="37.40" y="426.40" width="17.70" height="6.60" rx="3.30" ry="3.30" fill="#0a0a0a" opacity="1.0"/>
<rect x="55.60" y="426.40" width="17.50" height="6.60" rx="3.30" ry="3.30" fill="#0a0a0a" opacity="1.0"/>
<rect x="73.90" y="426.40" width="17.20" height="6.60" rx="3.30" ry="3.30" fill="#0a0a0a" opacity="1.0"/>
<rect x="91.40" y="426.40" width="17.20" height="6.60" rx="3.30" ry="3.30" fill="#0a0a0a" opacity="1.0"/>
<rect x="109.40" y="426.40" width="16.70" height="6.60" rx="3.30" ry="3.30" fill="#0a0a0a" opacity="1.0"/>
<rect x="18.90" y="433.80" width="18.00" height="6.60" rx="3.30" ry="3.30" fill="#0a0a0a" opacity="1.0"/>
<rect x="37.40" y="433.80" width="17.70" height="6.60" rx="3.30" ry="3.30" fill="#0a0a0a" opacity="1.0"/>
<rect x="55.60" y="433.80" width="17.50" height="6.60" rx="3.30" ry="3.30" fill="#0a0a0a" opacity="1.0"/>
<rect x="73.90" y="433.80" width="17.20" height="6.60" rx="3.30" ry="3.30" fill="#0a0a0a" opacity="1.0"/>
<rect x="91.40" y="433.80" width="17.20" height="6.60" rx="3.30" ry="3.30" fill="#0a0a0a" opacity="1.0"/>
<rect x="109.40" y="433.80" width="16.70" height="6.60" rx="3.30" ry="3.30" fill="#0a0a0a" opacity="1.0"/>
<rect x="20.30" y="427.30" width="15.20" height="4.80" rx="2.40" ry="2.40" fill="#0a0a0a" opacity="1.0"/>
<rect x="38.80" y="427.30" width="14.90" height="4.80" rx="2.40" ry="2.40" fill="#0a0a0a" opacity="1.0"/>
<rect x="57.00" y="427.30" width="14.70" height="4.80" rx="2.40" ry="2.40" fill="#0a0a0a" opacity="1.0"/>
<rect x="75.30" y="427.30" width="14.40" height="4.80" rx="2.40" ry="2.40" fill="#0a0a0a" opacity="1.0"/>
<rect x="92.80" y="427.30" width="14.40" height="4.80" rx="2.40" ry="2.40" fill="#0a0a0a" opacity="1.0"/>
<rect x="110.80" y="427.30" width="13.90" height="4.80" rx="2.40" ry="2.40" fill="#0a0a0a" opacity="1.0"/>
<rect x="20.30" y="434.70" width="15.20" height="4.80" rx="2.40" ry="2.40" fill="#0a0a0a" opacity="1.0"/>
<rect x="38.80" y="434.70" width="14.90" height="4.80" rx="2.40" ry="2.40" fill="#0a0a0a" opacity="1.0"/>
<rect x="57.00" y="434.70" width="14.70" height="4.80" rx="2.40" ry="2.40" fill="#0a0a0a" opacity="1.0"/>
<rect x="75.30" y="434.70" width="14.40" height="4.80" rx="2.40" ry="2.40" fill="#0a0a0a" opacity="1.0"/>
<rect x="92.80" y="434.70" width="14.40" height="4.80" rx="2.40" ry="2.40" fill="#0a0a0a" opacity="1.0"/>
<rect x="110.80" y="434.70" width="13.90" height="4.80" rx="2.40" ry="2.40" fill="#0a0a0a" opacity="1.0"/>
<rect x="21.00" y="431.80" width="13.80" height="3.20" rx="2.20" ry="1.60" fill="#0a0a0a" opacity="0.55"/>
<rect x="39.50" y="431.80" width="13.50" height="3.20" rx="2.20" ry="1.60" fill="#0a0a0a" opacity="0.55"/>
<rect x="57.70" y="431.80" width="13.30" height="3.20" rx="2.20" ry="1.60" fill="#0a0a0a" opacity="0.55"/>
<rect x="76.00" y="431.80" width="13.00" height="3.20" rx="2.20" ry="1.60" fill="#0a0a0a" opacity="0.55"/>
<rect x="93.50" y="431.80" width="13.00" height="3.20" rx="2.20" ry="1.60" fill="#0a0a0a" opacity="0.55"/>
<rect x="111.50" y="431.80" width="12.50" height="3.20" rx="2.20" ry="1.60" fill="#0a0a0a" opacity="0.55"/>
</g></g>
<rect x="18.00" y="423.80" width="110.60" height="19.20" fill="none" stroke="#222" stroke-width="1.25"/>
<text x="135.7" y="437.2" font-size="11.2" font-weight="bold" textLength="19.5" lengthAdjust="spacingAndGlyphs" fill="#000" stroke="#000" stroke-width="0.3">ERK</text>
<clipPath id="c17"><rect x="18" y="445" width="110.60" height="17.60"/></clipPath>
<rect x="18.00" y="445.00" width="110.60" height="17.60" fill="#eaeaea" stroke="none" stroke-width="1"/>
<g clip-path="url(#c17)"><g filter="url(#b1)">
<rect x="21.80" y="454.80" width="12.00" height="3.00" rx="2.20" ry="1.50" fill="#0a0a0a" opacity="0.9"/>
<rect x="23.30" y="455.40" width="9.00" height="1.80" rx="2.20" ry="0.90" fill="#0a0a0a" opacity="0.5"/>
<rect x="42.00" y="455.40" width="8.00" height="1.80" rx="2.20" ry="0.90" fill="#0a0a0a" opacity="0.1"/>
<rect x="57.20" y="453.20" width="12.60" height="4.00" rx="2.20" ry="2.00" fill="#0a0a0a" opacity="1.0"/>
<rect x="58.50" y="453.90" width="10.00" height="2.60" rx="2.20" ry="1.30" fill="#0a0a0a" opacity="0.8"/>
<rect x="76.50" y="453.70" width="10.00" height="2.20" rx="2.20" ry="1.10" fill="#0a0a0a" opacity="0.28"/>
<rect x="93.60" y="452.80" width="12.00" height="3.60" rx="2.20" ry="1.80" fill="#0a0a0a" opacity="0.95"/>
<rect x="94.80" y="453.50" width="9.60" height="2.20" rx="2.20" ry="1.10" fill="#0a0a0a" opacity="0.6"/>
<rect x="112.50" y="453.60" width="9.00" height="2.00" rx="2.20" ry="1.00" fill="#0a0a0a" opacity="0.25"/>
</g></g>
<rect x="18.00" y="445.00" width="110.60" height="17.60" fill="none" stroke="#222" stroke-width="1.25"/>
<text x="135.7" y="457.7" font-size="11.2" font-weight="bold" textLength="25.5" lengthAdjust="spacingAndGlyphs" fill="#000" stroke="#000" stroke-width="0.3">Mcl-1</text>
<text x="30" y="471" font-size="7.1" font-weight="bold" text-anchor="middle" fill="#222" stroke="#222" stroke-width="0.01">3.8</text>
<text x="46.6" y="471" font-size="7.1" font-weight="bold" text-anchor="middle" fill="#222" stroke="#222" stroke-width="0.01">2.3</text>
<text x="65.6" y="471" font-size="7.1" font-weight="bold" text-anchor="middle" fill="#222" stroke="#222" stroke-width="0.01">5.7</text>
<text x="87.9" y="471" font-size="7.1" font-weight="bold" text-anchor="middle" fill="#222" stroke="#222" stroke-width="0.01">2.6</text>
<text x="101.9" y="471" font-size="7.1" font-weight="bold" text-anchor="middle" fill="#222" stroke="#222" stroke-width="0.01">4.7</text>
<text x="120" y="471" font-size="7.1" font-weight="bold" text-anchor="middle" fill="#222" stroke="#222" stroke-width="0.01">2.5</text>
<clipPath id="c18"><rect x="18" y="474.5" width="110.60" height="18.30"/></clipPath>
<rect x="18.00" y="474.50" width="110.60" height="18.30" fill="#dedede" stroke="none" stroke-width="1"/>
<g clip-path="url(#c18)"><g filter="url(#b1)">
<rect x="18.70" y="481.00" width="18.40" height="6.40" rx="3.20" ry="3.20" fill="#0a0a0a" opacity="1.0"/>
<rect x="37.20" y="481.00" width="18.10" height="6.40" rx="3.20" ry="3.20" fill="#0a0a0a" opacity="1.0"/>
<rect x="55.40" y="481.00" width="17.90" height="6.40" rx="3.20" ry="3.20" fill="#0a0a0a" opacity="1.0"/>
<rect x="73.70" y="481.00" width="17.60" height="6.40" rx="3.20" ry="3.20" fill="#0a0a0a" opacity="1.0"/>
<rect x="91.20" y="481.00" width="17.60" height="6.40" rx="3.20" ry="3.20" fill="#0a0a0a" opacity="1.0"/>
<rect x="109.20" y="481.00" width="17.10" height="6.40" rx="3.20" ry="3.20" fill="#0a0a0a" opacity="1.0"/>
<rect x="20.00" y="481.90" width="15.80" height="4.60" rx="2.30" ry="2.30" fill="#0a0a0a" opacity="1.0"/>
<rect x="38.50" y="481.90" width="15.50" height="4.60" rx="2.30" ry="2.30" fill="#0a0a0a" opacity="1.0"/>
<rect x="56.70" y="481.90" width="15.30" height="4.60" rx="2.30" ry="2.30" fill="#0a0a0a" opacity="1.0"/>
<rect x="75.00" y="481.90" width="15.00" height="4.60" rx="2.30" ry="2.30" fill="#0a0a0a" opacity="1.0"/>
<rect x="92.50" y="481.90" width="15.00" height="4.60" rx="2.30" ry="2.30" fill="#0a0a0a" opacity="1.0"/>
<rect x="110.50" y="481.90" width="14.50" height="4.60" rx="2.30" ry="2.30" fill="#0a0a0a" opacity="1.0"/>
<rect x="21.00" y="483.00" width="104.00" height="2.40" rx="2.20" ry="1.20" fill="#0a0a0a" opacity="0.8"/>
</g></g>
<rect x="18.00" y="474.50" width="110.60" height="18.30" fill="none" stroke="#222" stroke-width="1.25"/>
<text x="136.6" y="487.2" font-size="11.2" font-weight="bold" textLength="34.5" lengthAdjust="spacingAndGlyphs" fill="#000" stroke="#000" stroke-width="0.3">GAPDH</text>
<text x="238" y="313.6" font-size="16.5" font-weight="bold" fill="#000" stroke="#000" stroke-width="0.5">D</text>
<text x="353.4" y="309.4" font-size="9.2" font-weight="bold" text-anchor="middle" textLength="23.5" lengthAdjust="spacingAndGlyphs" fill="#000" stroke="#000" stroke-width="0.3">Mcl-1</text>
<text x="254.7" y="384.5" font-size="9.1" font-weight="bold" text-anchor="middle" transform="rotate(-90 254.7 384.5)" textLength="127.5" lengthAdjust="spacingAndGlyphs" fill="#000" stroke="#000" stroke-width="0.2">Ratio (Normalized to GAPDH)</text>
<rect x="279.30" y="396.40" width="18.00" height="43.80" fill="#fff" stroke="#000" stroke-width="1.5"/>
<line x1="288.3" y1="440.2" x2="288.3" y2="443.0" stroke="#000" stroke-width="1.3"/>
<line x1="316.0" y1="394.64799999999997" x2="316.0" y2="402.532" stroke="#000" stroke-width="1.55"/>
<line x1="310.8" y1="394.64799999999997" x2="321.2" y2="394.64799999999997" stroke="#000" stroke-width="1.55"/>
<rect x="307.00" y="402.53" width="18.00" height="37.67" fill="url(#hat)" stroke="#000" stroke-width="1.5"/>
<line x1="316.0" y1="440.2" x2="316.0" y2="443.0" stroke="#000" stroke-width="1.3"/>
<line x1="343.15" y1="350.848" x2="343.15" y2="360.922" stroke="#000" stroke-width="1.55"/>
<line x1="337.95" y1="350.848" x2="348.34999999999997" y2="350.848" stroke="#000" stroke-width="1.55"/>
<rect x="333.80" y="360.92" width="18.70" height="79.28" fill="url(#chk)" stroke="#000" stroke-width="1.5"/>
<line x1="343.15" y1="440.2" x2="343.15" y2="443.0" stroke="#000" stroke-width="1.3"/>
<line x1="370.65" y1="383.26" x2="370.65" y2="393.334" stroke="#000" stroke-width="1.55"/>
<line x1="365.45" y1="383.26" x2="375.84999999999997" y2="383.26" stroke="#000" stroke-width="1.55"/>
<rect x="361.50" y="393.33" width="18.30" height="46.87" fill="#111" stroke="#000" stroke-width="1.5"/>
<line x1="370.65" y1="440.2" x2="370.65" y2="443.0" stroke="#000" stroke-width="1.3"/>
<line x1="398.0" y1="359.16999999999996" x2="398.0" y2="372.31" stroke="#000" stroke-width="1.55"/>
<line x1="392.8" y1="359.16999999999996" x2="403.2" y2="359.16999999999996" stroke="#000" stroke-width="1.55"/>
<rect x="388.50" y="372.31" width="19.00" height="67.89" fill="url(#chk)" stroke="#000" stroke-width="1.5"/>
<line x1="398.0" y1="440.2" x2="398.0" y2="443.0" stroke="#000" stroke-width="1.3"/>
<line x1="425.0" y1="399.904" x2="425.0" y2="404.722" stroke="#000" stroke-width="1.55"/>
<line x1="419.8" y1="399.904" x2="430.2" y2="399.904" stroke="#000" stroke-width="1.55"/>
<rect x="415.50" y="404.72" width="19.00" height="35.48" fill="#111" stroke="#000" stroke-width="1.5"/>
<line x1="425.0" y1="440.2" x2="425.0" y2="443.0" stroke="#000" stroke-width="1.3"/>
<line x1="275" y1="330.2" x2="275" y2="440.9" stroke="#000" stroke-width="1.5"/>
<line x1="274.3" y1="440.2" x2="440.4" y2="440.2" stroke="#000" stroke-width="1.5"/>
<line x1="272" y1="440.2" x2="275" y2="440.2" stroke="#000" stroke-width="1.3"/>
<text x="270.0" y="442.9" font-size="7.6" font-weight="bold" text-anchor="end" fill="#000" stroke="#000" stroke-width="0.3">0.0</text>
<line x1="272" y1="418.3" x2="275" y2="418.3" stroke="#000" stroke-width="1.3"/>
<text x="270.0" y="421.0" font-size="7.6" font-weight="bold" text-anchor="end" fill="#000" stroke="#000" stroke-width="0.3">0.5</text>
<line x1="272" y1="396.4" x2="275" y2="396.4" stroke="#000" stroke-width="1.3"/>
<text x="270.0" y="399.09999999999997" font-size="7.6" font-weight="bold" text-anchor="end" fill="#000" stroke="#000" stroke-width="0.3">1.0</text>
<line x1="272" y1="374.5" x2="275" y2="374.5" stroke="#000" stroke-width="1.3"/>
<text x="270.0" y="377.2" font-size="7.6" font-weight="bold" text-anchor="end" fill="#000" stroke="#000" stroke-width="0.3">1.5</text>
<line x1="272" y1="352.6" x2="275" y2="352.6" stroke="#000" stroke-width="1.3"/>
<text x="270.0" y="355.3" font-size="7.6" font-weight="bold" text-anchor="end" fill="#000" stroke="#000" stroke-width="0.3">2.0</text>
<line x1="272" y1="330.7" x2="275" y2="330.7" stroke="#000" stroke-width="1.3"/>
<text x="270.0" y="333.4" font-size="7.6" font-weight="bold" text-anchor="end" fill="#000" stroke="#000" stroke-width="0.3">2.5</text>
<text x="356.8" y="323.2" font-size="7.6" text-anchor="middle" textLength="29.5" lengthAdjust="spacingAndGlyphs" fill="#000" stroke="#000" stroke-width="0.4">P=0.003</text>
<polyline points="344.5,344 344.5,326.5 370.5,326.5 370.5,378.6" fill="none" stroke="#111" stroke-width="1.0"/>
<text x="411.6" y="323.2" font-size="7.6" text-anchor="middle" textLength="29.5" lengthAdjust="spacingAndGlyphs" fill="#000" stroke="#000" stroke-width="0.4">P=0.029</text>
<polyline points="398.5,352.7 398.5,326.5 424.5,326.5 424.5,394" fill="none" stroke="#111" stroke-width="1.0"/>
<text x="441.8" y="447.5" font-size="6.4" font-weight="bold" textLength="16.3" lengthAdjust="spacingAndGlyphs" fill="#222" stroke="#222" stroke-width="0.15">(N=4)</text>
<clipPath id="c19"><rect x="275.5" y="447.8" width="164.70" height="16.00"/></clipPath>
<rect x="275.50" y="447.80" width="164.70" height="16.00" fill="#e9e9e9" stroke="none" stroke-width="1"/>
<g clip-path="url(#c19)"><g filter="url(#b1)">
<rect x="280.00" y="456.80" width="15.60" height="3.40" rx="2.20" ry="1.70" fill="#0a0a0a" opacity="0.95"/>
<rect x="281.00" y="457.50" width="10.00" height="2.20" rx="2.20" ry="1.10" fill="#0a0a0a" opacity="0.7"/>
<rect x="311.50" y="458.20" width="9.00" height="1.60" rx="2.20" ry="0.80" fill="#0a0a0a" opacity="0.08"/>
<rect x="334.00" y="455.50" width="16.60" height="3.80" rx="2.20" ry="1.90" fill="#0a0a0a" opacity="1.0"/>
<rect x="336.30" y="456.20" width="12.00" height="2.40" rx="2.20" ry="1.20" fill="#0a0a0a" opacity="0.8"/>
<rect x="365.50" y="457.10" width="10.00" height="1.80" rx="2.20" ry="0.90" fill="#0a0a0a" opacity="0.28"/>
<rect x="389.00" y="455.30" width="16.00" height="3.40" rx="2.20" ry="1.70" fill="#0a0a0a" opacity="0.95"/>
<rect x="391.00" y="455.90" width="12.00" height="2.20" rx="2.20" ry="1.10" fill="#0a0a0a" opacity="0.7"/>
<rect x="420.00" y="456.90" width="10.00" height="1.80" rx="2.20" ry="0.90" fill="#0a0a0a" opacity="0.3"/>
</g></g>
<rect x="275.50" y="447.80" width="164.70" height="16.00" fill="none" stroke="#222" stroke-width="1.1"/>
<text x="290.79999999999995" y="472.2" font-size="8.0" font-weight="bold" text-anchor="end" transform="rotate(-45 290.79999999999995 472.2)" fill="#000" stroke="#000" stroke-width="0.35">C</text>
<text x="317.9" y="472.2" font-size="8.0" font-weight="bold" text-anchor="end" transform="rotate(-45 317.9 472.2)" fill="#000" stroke="#000" stroke-width="0.35">T315</text>
<text x="345.09999999999997" y="472.2" font-size="8.0" font-weight="bold" text-anchor="end" transform="rotate(-45 345.09999999999997 472.2)" fill="#000" stroke="#000" stroke-width="0.35">FN</text>
<text x="372.59999999999997" y="472.2" font-size="8.0" font-weight="bold" text-anchor="end" transform="rotate(-45 372.59999999999997 472.2)" fill="#000" stroke="#000" stroke-width="0.35">FN+T315</text>
<text x="399.9" y="472.2" font-size="8.0" font-weight="bold" text-anchor="end" transform="rotate(-45 399.9 472.2)" fill="#000" stroke="#000" stroke-width="0.35">VCAM1</text>
<text x="426.9" y="472.2" font-size="8.0" font-weight="bold" text-anchor="end" transform="rotate(-45 426.9 472.2)" fill="#000" stroke="#000" stroke-width="0.35">VCAM1+T315</text>
<text x="0.7" y="529.8" font-size="16" font-weight="bold" fill="#000" stroke="#000" stroke-width="0.5">E</text>
<text x="8.9" y="607.8" font-size="10" font-weight="bold" text-anchor="middle" transform="rotate(-90 8.9 607.8)" textLength="138.5" lengthAdjust="spacingAndGlyphs" fill="#000" stroke="#000" stroke-width="0.2">Caspase 3/7 activity (RLU) %</text>
<line x1="44.650000000000006" y1="618.526" x2="44.650000000000006" y2="621.4" stroke="#000" stroke-width="1.45"/>
<line x1="41.45" y1="618.526" x2="47.85000000000001" y2="618.526" stroke="#000" stroke-width="1.45"/>
<rect x="40.20" y="621.40" width="8.90" height="47.90" fill="#fff" stroke="#111" stroke-width="1.4"/>
<rect x="50.60" y="621.40" width="8.90" height="47.90" fill="#050505" stroke="#111" stroke-width="1.4"/>
<line x1="74.7" y1="610.3829999999999" x2="74.7" y2="612.7779999999999" stroke="#000" stroke-width="1.45"/>
<line x1="71.5" y1="610.3829999999999" x2="77.9" y2="610.3829999999999" stroke="#000" stroke-width="1.45"/>
<rect x="70.50" y="612.78" width="8.40" height="56.52" fill="#fff" stroke="#111" stroke-width="1.4"/>
<line x1="84.65" y1="605.1139999999999" x2="84.65" y2="606.072" stroke="#000" stroke-width="1.45"/>
<line x1="81.45" y1="605.1139999999999" x2="87.85000000000001" y2="605.1139999999999" stroke="#000" stroke-width="1.45"/>
<rect x="80.40" y="606.07" width="8.50" height="63.23" fill="#050505" stroke="#111" stroke-width="1.4"/>
<line x1="105.6" y1="599.8449999999999" x2="105.6" y2="603.198" stroke="#000" stroke-width="1.45"/>
<line x1="102.39999999999999" y1="599.8449999999999" x2="108.8" y2="599.8449999999999" stroke="#000" stroke-width="1.45"/>
<rect x="101.20" y="603.20" width="8.80" height="66.10" fill="#fff" stroke="#111" stroke-width="1.4"/>
<line x1="116.05" y1="573.5" x2="116.05" y2="588.3489999999999" stroke="#000" stroke-width="1.45"/>
<line x1="112.85" y1="573.5" x2="119.25" y2="573.5" stroke="#000" stroke-width="1.45"/>
<rect x="111.60" y="588.35" width="8.90" height="80.95" fill="#050505" stroke="#111" stroke-width="1.4"/>
<line x1="136.9" y1="583.7985" x2="136.9" y2="589.786" stroke="#000" stroke-width="1.45"/>
<line x1="133.70000000000002" y1="583.7985" x2="140.1" y2="583.7985" stroke="#000" stroke-width="1.45"/>
<rect x="132.80" y="589.79" width="8.20" height="79.51" fill="#fff" stroke="#111" stroke-width="1.4"/>
<line x1="147.55" y1="580.685" x2="147.55" y2="583.0799999999999" stroke="#000" stroke-width="1.45"/>
<line x1="144.35000000000002" y1="580.685" x2="150.75" y2="580.685" stroke="#000" stroke-width="1.45"/>
<rect x="143.30" y="583.08" width="8.50" height="86.22" fill="#050505" stroke="#111" stroke-width="1.4"/>
<line x1="167.1" y1="623.795" x2="167.1" y2="624.7529999999999" stroke="#000" stroke-width="1.45"/>
<line x1="163.9" y1="623.795" x2="170.29999999999998" y2="623.795" stroke="#000" stroke-width="1.45"/>
<rect x="163.00" y="624.75" width="8.20" height="44.55" fill="#fff" stroke="#111" stroke-width="1.4"/>
<line x1="178.10000000000002" y1="608.467" x2="178.10000000000002" y2="613.4965" stroke="#000" stroke-width="1.45"/>
<line x1="174.90000000000003" y1="608.467" x2="181.3" y2="608.467" stroke="#000" stroke-width="1.45"/>
<rect x="173.90" y="613.50" width="8.40" height="55.80" fill="#050505" stroke="#111" stroke-width="1.4"/>
<line x1="198.35" y1="557.374" x2="198.35" y2="557.939" stroke="#000" stroke-width="1.45"/>
<line x1="195.15" y1="557.374" x2="201.54999999999998" y2="557.374" stroke="#000" stroke-width="1.45"/>
<rect x="194.20" y="557.94" width="8.30" height="111.36" fill="#fff" stroke="#111" stroke-width="1.4"/>
<rect x="204.80" y="568.45" width="8.60" height="100.85" fill="#050505" stroke="#111" stroke-width="1.4"/>
<rect x="192.00" y="570.20" width="24.00" height="2.50" fill="#fff" stroke="none" stroke-width="1"/>
<line x1="35.1" y1="545.5" x2="35.1" y2="570" stroke="#111" stroke-width="1.3"/>
<line x1="35.1" y1="573" x2="35.1" y2="669.8" stroke="#111" stroke-width="1.3"/>
<line x1="32.6" y1="570" x2="37.6" y2="570" stroke="#111" stroke-width="1.1"/>
<line x1="32.6" y1="573" x2="37.6" y2="573" stroke="#111" stroke-width="1.1"/>
<line x1="34.6" y1="669.3" x2="217.8" y2="669.3" stroke="#111" stroke-width="1.4"/>
<line x1="31.900000000000002" y1="546.3" x2="35.1" y2="546.3" stroke="#111" stroke-width="1.0"/>
<text x="29.5" y="549.3" font-size="8.4" font-weight="bold" text-anchor="end" fill="#000" stroke="#000" stroke-width="0.2">400</text>
<line x1="31.900000000000002" y1="558.6" x2="35.1" y2="558.6" stroke="#111" stroke-width="1.0"/>
<text x="29.5" y="561.6" font-size="8.4" font-weight="bold" text-anchor="end" fill="#000" stroke="#000" stroke-width="0.2">300</text>
<line x1="31.900000000000002" y1="573.6" x2="35.1" y2="573.6" stroke="#111" stroke-width="1.0"/>
<text x="29.5" y="576.6" font-size="8.4" font-weight="bold" text-anchor="end" fill="#000" stroke="#000" stroke-width="0.2">200</text>
<line x1="31.900000000000002" y1="597.4" x2="35.1" y2="597.4" stroke="#111" stroke-width="1.0"/>
<text x="29.5" y="600.4" font-size="8.4" font-weight="bold" text-anchor="end" fill="#000" stroke="#000" stroke-width="0.2">150</text>
<line x1="31.900000000000002" y1="621.4" x2="35.1" y2="621.4" stroke="#111" stroke-width="1.0"/>
<text x="29.5" y="624.4" font-size="8.4" font-weight="bold" text-anchor="end" fill="#000" stroke="#000" stroke-width="0.2">100</text>
<line x1="31.900000000000002" y1="645.4" x2="35.1" y2="645.4" stroke="#111" stroke-width="1.0"/>
<text x="29.5" y="648.4" font-size="8.4" font-weight="bold" text-anchor="end" fill="#000" stroke="#000" stroke-width="0.2">50</text>
<line x1="31.900000000000002" y1="669.3" x2="35.1" y2="669.3" stroke="#111" stroke-width="1.0"/>
<text x="29.5" y="672.3" font-size="8.4" font-weight="bold" text-anchor="end" fill="#000" stroke="#000" stroke-width="0.2">0</text>
<line x1="49.8" y1="669.3" x2="49.8" y2="672.3" stroke="#111" stroke-width="1.0"/>
<line x1="79.7" y1="669.3" x2="79.7" y2="672.3" stroke="#111" stroke-width="1.0"/>
<line x1="110.8" y1="669.3" x2="110.8" y2="672.3" stroke="#111" stroke-width="1.0"/>
<line x1="142.3" y1="669.3" x2="142.3" y2="672.3" stroke="#111" stroke-width="1.0"/>
<line x1="172.7" y1="669.3" x2="172.7" y2="672.3" stroke="#111" stroke-width="1.0"/>
<line x1="203.7" y1="669.3" x2="203.7" y2="672.3" stroke="#111" stroke-width="1.0"/>
<rect x="45.40" y="546.90" width="13.00" height="6.40" fill="#fff" stroke="#111" stroke-width="1.4"/>
<rect x="45.40" y="560.60" width="13.00" height="6.40" fill="#111" stroke="#111" stroke-width="1.4"/>
<text x="65.5" y="553.8" font-size="9.7" textLength="27" lengthAdjust="spacingAndGlyphs" fill="#000" stroke="#000" stroke-width="0.2">Mec-1</text>
<text x="65.5" y="567.5" font-size="9.7" textLength="42" lengthAdjust="spacingAndGlyphs" fill="#000" stroke="#000" stroke-width="0.2">OSU-CLL</text>
<text x="52.0" y="682.2" font-size="9" font-weight="bold" text-anchor="end" transform="rotate(-45 52.0 682.2)" fill="#000" stroke="#000" stroke-width="0.35">0</text>
<text x="81.9" y="682.2" font-size="9" font-weight="bold" text-anchor="end" transform="rotate(-45 81.9 682.2)" fill="#000" stroke="#000" stroke-width="0.35">1</text>
<text x="113.0" y="682.2" font-size="9" font-weight="bold" text-anchor="end" transform="rotate(-45 113.0 682.2)" fill="#000" stroke="#000" stroke-width="0.35">2</text>
<text x="145.2" y="682.2" font-size="9" font-weight="bold" text-anchor="end" transform="rotate(-45 145.2 682.2)" fill="#000" stroke="#000" stroke-width="0.35">4</text>
<text x="174.9" y="682.5" font-size="9.0" font-weight="bold" text-anchor="end" transform="rotate(-45 174.9 682.5)" fill="#000" stroke="#000" stroke-width="0.35">4 + Q-VD-OPh</text>
<text x="205.7" y="682" font-size="9.0" font-weight="bold" text-anchor="end" transform="rotate(-45 205.7 682)" fill="#000" stroke="#000" stroke-width="0.35">Flavopiridol</text>
<line x1="39.6" y1="692" x2="145.4" y2="692" stroke="#000" stroke-width="1.3"/>
<text x="92.7" y="701.7" font-size="9" font-weight="bold" text-anchor="middle" textLength="42.3" lengthAdjust="spacingAndGlyphs" fill="#111" stroke="#111" stroke-width="0.2">T315 (µM)</text>
<text x="253" y="530.2" font-size="17" font-weight="bold" fill="#000" stroke="#000" stroke-width="0.5">F</text>
<text x="315.2" y="544.8" font-size="13" font-weight="bold" text-anchor="middle" textLength="38" lengthAdjust="spacingAndGlyphs" fill="#000" stroke="#000" stroke-width="0.4">Mec-1</text>
<text x="399" y="545" font-size="13" font-weight="bold" text-anchor="middle" textLength="50.5" lengthAdjust="spacingAndGlyphs" fill="#000" stroke="#000" stroke-width="0.4">OSU-CLL</text>
<text x="260.6" y="611.2" font-size="7.8" font-weight="bold" text-anchor="middle" transform="rotate(-90 260.6 611.2)" textLength="71.5" lengthAdjust="spacingAndGlyphs" fill="#000" stroke="#000" stroke-width="0.2">% of PI / Annexin V</text>
<text x="257.2" y="573.4" font-size="4.6" font-weight="bold" text-anchor="middle" transform="rotate(-90 257.2 573.4)" fill="#111" stroke="#111" stroke-width="0.2">+</text>
<line x1="281.8" y1="621.18" x2="350.6" y2="621.18" stroke="#999" stroke-width="0.9" stroke-dasharray="1.2 1.6"/>
<line x1="279.8" y1="549.1" x2="279.8" y2="669.6" stroke="#000" stroke-width="1.45"/>
<line x1="279.1" y1="668.9" x2="350.3" y2="668.9" stroke="#000" stroke-width="1.45"/>
<line x1="276.8" y1="668.9" x2="279.8" y2="668.9" stroke="#000" stroke-width="1.25"/>
<text x="276" y="671.4" font-size="6.8" font-weight="bold" text-anchor="end" fill="#111" stroke="#111" stroke-width="0.2">0</text>
<line x1="276.8" y1="645.04" x2="279.8" y2="645.04" stroke="#000" stroke-width="1.25"/>
<text x="276" y="647.54" font-size="6.8" font-weight="bold" text-anchor="end" fill="#111" stroke="#111" stroke-width="0.2">25</text>
<line x1="276.8" y1="621.18" x2="279.8" y2="621.18" stroke="#000" stroke-width="1.25"/>
<text x="276" y="623.68" font-size="6.8" font-weight="bold" text-anchor="end" fill="#111" stroke="#111" stroke-width="0.2">50</text>
<line x1="276.8" y1="597.32" x2="279.8" y2="597.32" stroke="#000" stroke-width="1.25"/>
<text x="276" y="599.82" font-size="6.8" font-weight="bold" text-anchor="end" fill="#111" stroke="#111" stroke-width="0.2">75</text>
<line x1="276.8" y1="573.46" x2="279.8" y2="573.46" stroke="#000" stroke-width="1.25"/>
<text x="276" y="575.96" font-size="6.8" font-weight="bold" text-anchor="end" fill="#111" stroke="#111" stroke-width="0.2">100</text>
<line x1="276.8" y1="549.6" x2="279.8" y2="549.6" stroke="#000" stroke-width="1.25"/>
<text x="276" y="552.1" font-size="6.8" font-weight="bold" text-anchor="end" fill="#111" stroke="#111" stroke-width="0.2">125</text>
<line x1="279.8" y1="668.9" x2="279.8" y2="671.9" stroke="#000" stroke-width="1.25"/>
<text x="279.8" y="678.9" font-size="6.8" font-weight="bold" text-anchor="middle" fill="#111" stroke="#111" stroke-width="0.2">0</text>
<line x1="297.25" y1="668.9" x2="297.25" y2="671.9" stroke="#000" stroke-width="1.25"/>
<text x="297.25" y="678.9" font-size="6.8" font-weight="bold" text-anchor="middle" fill="#111" stroke="#111" stroke-width="0.2">1</text>
<line x1="314.7" y1="668.9" x2="314.7" y2="671.9" stroke="#000" stroke-width="1.25"/>
<text x="314.7" y="678.9" font-size="6.8" font-weight="bold" text-anchor="middle" fill="#111" stroke="#111" stroke-width="0.2">2</text>
<line x1="332.15" y1="668.9" x2="332.15" y2="671.9" stroke="#000" stroke-width="1.25"/>
<text x="332.15" y="678.9" font-size="6.8" font-weight="bold" text-anchor="middle" fill="#111" stroke="#111" stroke-width="0.2">3</text>
<line x1="349.6" y1="668.9" x2="349.6" y2="671.9" stroke="#000" stroke-width="1.25"/>
<text x="349.6" y="678.9" font-size="6.8" font-weight="bold" text-anchor="middle" fill="#111" stroke="#111" stroke-width="0.2">4</text>
<polyline points="279.80,573.46 297.25,572.03 314.70,576.32 332.15,594.46 349.60,608.77" fill="none" stroke="#000" stroke-width="1.3"/>
<rect x="277.60" y="571.26" width="4.40" height="4.40" fill="#111" stroke="#111" stroke-width="0.8"/>
<line x1="297.25" y1="570.1196" x2="297.25" y2="573.9372000000001" stroke="#000" stroke-width="1.25"/>
<line x1="294.65" y1="570.1196" x2="299.85" y2="570.1196" stroke="#000" stroke-width="1.25"/>
<line x1="294.65" y1="573.9372000000001" x2="299.85" y2="573.9372000000001" stroke="#000" stroke-width="1.25"/>
<rect x="295.35" y="570.13" width="3.80" height="3.80" fill="#fff" stroke="#111" stroke-width="1.2"/>
<line x1="314.7" y1="571.5512" x2="314.7" y2="581.0952" stroke="#000" stroke-width="1.25"/>
<line x1="312.09999999999997" y1="571.5512" x2="317.3" y2="571.5512" stroke="#000" stroke-width="1.25"/>
<line x1="312.09999999999997" y1="581.0952" x2="317.3" y2="581.0952" stroke="#000" stroke-width="1.25"/>
<rect x="312.80" y="574.42" width="3.80" height="3.80" fill="#fff" stroke="#111" stroke-width="1.2"/>
<line x1="332.15" y1="585.8672" x2="332.15" y2="603.0464" stroke="#000" stroke-width="1.25"/>
<line x1="329.54999999999995" y1="585.8672" x2="334.75" y2="585.8672" stroke="#000" stroke-width="1.25"/>
<line x1="329.54999999999995" y1="603.0464" x2="334.75" y2="603.0464" stroke="#000" stroke-width="1.25"/>
<rect x="330.25" y="592.56" width="3.80" height="3.80" fill="#fff" stroke="#111" stroke-width="1.2"/>
<line x1="349.6" y1="600.1832" x2="349.6" y2="617.3624" stroke="#000" stroke-width="1.25"/>
<line x1="347.0" y1="600.1832" x2="352.20000000000005" y2="600.1832" stroke="#000" stroke-width="1.25"/>
<line x1="347.0" y1="617.3624" x2="352.20000000000005" y2="617.3624" stroke="#000" stroke-width="1.25"/>
<rect x="347.70" y="606.87" width="3.80" height="3.80" fill="#fff" stroke="#111" stroke-width="1.2"/>
<polyline points="279.80,573.46 297.25,576.80 314.70,587.78 332.15,628.82 349.60,651.72" fill="none" stroke="#000" stroke-width="1.3"/>
<circle cx="279.80" cy="573.46" r="2.0" fill="#111"/>
<line x1="297.25" y1="572.9828" x2="297.25" y2="580.618" stroke="#000" stroke-width="1.25"/>
<line x1="294.65" y1="572.9828" x2="299.85" y2="572.9828" stroke="#000" stroke-width="1.25"/>
<line x1="294.65" y1="580.618" x2="299.85" y2="580.618" stroke="#000" stroke-width="1.25"/>
<circle cx="297.25" cy="576.80" r="2.0" fill="#111"/>
<line x1="314.7" y1="580.1408" x2="314.7" y2="595.4112" stroke="#000" stroke-width="1.25"/>
<line x1="312.09999999999997" y1="580.1408" x2="317.3" y2="580.1408" stroke="#000" stroke-width="1.25"/>
<line x1="312.09999999999997" y1="595.4112" x2="317.3" y2="595.4112" stroke="#000" stroke-width="1.25"/>
<circle cx="314.70" cy="587.78" r="2.0" fill="#111"/>
<line x1="332.15" y1="620.2256" x2="332.15" y2="637.4048" stroke="#000" stroke-width="1.25"/>
<line x1="329.54999999999995" y1="620.2256" x2="334.75" y2="620.2256" stroke="#000" stroke-width="1.25"/>
<line x1="329.54999999999995" y1="637.4048" x2="334.75" y2="637.4048" stroke="#000" stroke-width="1.25"/>
<circle cx="332.15" cy="628.82" r="2.0" fill="#111"/>
<line x1="349.6" y1="647.9032" x2="349.6" y2="655.5384" stroke="#000" stroke-width="1.25"/>
<line x1="347.0" y1="647.9032" x2="352.20000000000005" y2="647.9032" stroke="#000" stroke-width="1.25"/>
<line x1="347.0" y1="655.5384" x2="352.20000000000005" y2="655.5384" stroke="#000" stroke-width="1.25"/>
<circle cx="349.60" cy="651.72" r="2.0" fill="#111"/>
<text x="284.4" y="632.6" font-size="6.4" font-weight="bold" textLength="33.5" lengthAdjust="spacingAndGlyphs" fill="#111" stroke="#111" stroke-width="0.2">* p=0.0397</text>
<text x="314.6" y="690.4" font-size="7.6" font-weight="bold" text-anchor="middle" textLength="31" lengthAdjust="spacingAndGlyphs" fill="#111" stroke="#111" stroke-width="0.2">T315 µM</text>
<line x1="373.4" y1="621.14" x2="442.0" y2="621.14" stroke="#999" stroke-width="0.9" stroke-dasharray="1.2 1.6"/>
<line x1="371.4" y1="549.3" x2="371.4" y2="669.4000000000001" stroke="#000" stroke-width="1.45"/>
<line x1="370.7" y1="668.7" x2="441.7" y2="668.7" stroke="#000" stroke-width="1.45"/>
<line x1="368.4" y1="668.7" x2="371.4" y2="668.7" stroke="#000" stroke-width="1.25"/>
<text x="367.6" y="671.2" font-size="6.8" font-weight="bold" text-anchor="end" fill="#111" stroke="#111" stroke-width="0.2">0</text>
<line x1="368.4" y1="644.9200000000001" x2="371.4" y2="644.9200000000001" stroke="#000" stroke-width="1.25"/>
<text x="367.6" y="647.4200000000001" font-size="6.8" font-weight="bold" text-anchor="end" fill="#111" stroke="#111" stroke-width="0.2">25</text>
<line x1="368.4" y1="621.14" x2="371.4" y2="621.14" stroke="#000" stroke-width="1.25"/>
<text x="367.6" y="623.64" font-size="6.8" font-weight="bold" text-anchor="end" fill="#111" stroke="#111" stroke-width="0.2">50</text>
<line x1="368.4" y1="597.36" x2="371.4" y2="597.36" stroke="#000" stroke-width="1.25"/>
<text x="367.6" y="599.86" font-size="6.8" font-weight="bold" text-anchor="end" fill="#111" stroke="#111" stroke-width="0.2">75</text>
<line x1="368.4" y1="573.5799999999999" x2="371.4" y2="573.5799999999999" stroke="#000" stroke-width="1.25"/>
<text x="367.6" y="576.0799999999999" font-size="6.8" font-weight="bold" text-anchor="end" fill="#111" stroke="#111" stroke-width="0.2">100</text>
<line x1="368.4" y1="549.8" x2="371.4" y2="549.8" stroke="#000" stroke-width="1.25"/>
<text x="367.6" y="552.3" font-size="6.8" font-weight="bold" text-anchor="end" fill="#111" stroke="#111" stroke-width="0.2">125</text>
<line x1="371.4" y1="668.7" x2="371.4" y2="671.7" stroke="#000" stroke-width="1.25"/>
<text x="371.4" y="678.7" font-size="6.8" font-weight="bold" text-anchor="middle" fill="#111" stroke="#111" stroke-width="0.2">0</text>
<line x1="388.79999999999995" y1="668.7" x2="388.79999999999995" y2="671.7" stroke="#000" stroke-width="1.25"/>
<text x="388.79999999999995" y="678.7" font-size="6.8" font-weight="bold" text-anchor="middle" fill="#111" stroke="#111" stroke-width="0.2">1</text>
<line x1="406.2" y1="668.7" x2="406.2" y2="671.7" stroke="#000" stroke-width="1.25"/>
<text x="406.2" y="678.7" font-size="6.8" font-weight="bold" text-anchor="middle" fill="#111" stroke="#111" stroke-width="0.2">2</text>
<line x1="423.59999999999997" y1="668.7" x2="423.59999999999997" y2="671.7" stroke="#000" stroke-width="1.25"/>
<text x="423.59999999999997" y="678.7" font-size="6.8" font-weight="bold" text-anchor="middle" fill="#111" stroke="#111" stroke-width="0.2">3</text>
<line x1="441.0" y1="668.7" x2="441.0" y2="671.7" stroke="#000" stroke-width="1.25"/>
<text x="441.0" y="678.7" font-size="6.8" font-weight="bold" text-anchor="middle" fill="#111" stroke="#111" stroke-width="0.2">4</text>
<polyline points="371.40,573.58 388.80,561.21 406.20,562.17 423.60,570.73 441.00,584.99" fill="none" stroke="#000" stroke-width="1.3"/>
<rect x="369.20" y="571.38" width="4.40" height="4.40" fill="#111" stroke="#111" stroke-width="0.8"/>
<line x1="388.79999999999995" y1="556.4584" x2="388.79999999999995" y2="565.9703999999999" stroke="#000" stroke-width="1.25"/>
<line x1="386.19999999999993" y1="556.4584" x2="391.4" y2="556.4584" stroke="#000" stroke-width="1.25"/>
<line x1="386.19999999999993" y1="565.9703999999999" x2="391.4" y2="565.9703999999999" stroke="#000" stroke-width="1.25"/>
<rect x="386.90" y="559.31" width="3.80" height="3.80" fill="#fff" stroke="#111" stroke-width="1.2"/>
<line x1="406.2" y1="554.5559999999999" x2="406.2" y2="569.7751999999999" stroke="#000" stroke-width="1.25"/>
<line x1="403.59999999999997" y1="554.5559999999999" x2="408.8" y2="554.5559999999999" stroke="#000" stroke-width="1.25"/>
<line x1="403.59999999999997" y1="569.7751999999999" x2="408.8" y2="569.7751999999999" stroke="#000" stroke-width="1.25"/>
<rect x="404.30" y="560.27" width="3.80" height="3.80" fill="#fff" stroke="#111" stroke-width="1.2"/>
<line x1="423.59999999999997" y1="558.3607999999999" x2="423.59999999999997" y2="583.092" stroke="#000" stroke-width="1.25"/>
<line x1="420.99999999999994" y1="558.3607999999999" x2="426.2" y2="558.3607999999999" stroke="#000" stroke-width="1.25"/>
<line x1="420.99999999999994" y1="583.092" x2="426.2" y2="583.092" stroke="#000" stroke-width="1.25"/>
<rect x="421.70" y="568.83" width="3.80" height="3.80" fill="#fff" stroke="#111" stroke-width="1.2"/>
<line x1="441.0" y1="568.824" x2="441.0" y2="601.1648" stroke="#000" stroke-width="1.25"/>
<line x1="438.4" y1="568.824" x2="443.6" y2="568.824" stroke="#000" stroke-width="1.25"/>
<line x1="438.4" y1="601.1648" x2="443.6" y2="601.1648" stroke="#000" stroke-width="1.25"/>
<rect x="439.10" y="583.09" width="3.80" height="3.80" fill="#fff" stroke="#111" stroke-width="1.2"/>
<polyline points="371.40,573.58 388.80,578.34 406.20,594.51 423.60,620.19 441.00,641.12" fill="none" stroke="#000" stroke-width="1.3"/>
<circle cx="371.40" cy="573.58" r="2.0" fill="#111"/>
<line x1="388.79999999999995" y1="573.5799999999999" x2="388.79999999999995" y2="583.092" stroke="#000" stroke-width="1.25"/>
<line x1="386.19999999999993" y1="573.5799999999999" x2="391.4" y2="573.5799999999999" stroke="#000" stroke-width="1.25"/>
<line x1="386.19999999999993" y1="583.092" x2="391.4" y2="583.092" stroke="#000" stroke-width="1.25"/>
<circle cx="388.80" cy="578.34" r="2.0" fill="#111"/>
<line x1="406.2" y1="585.9456" x2="406.2" y2="603.0672" stroke="#000" stroke-width="1.25"/>
<line x1="403.59999999999997" y1="585.9456" x2="408.8" y2="585.9456" stroke="#000" stroke-width="1.25"/>
<line x1="403.59999999999997" y1="603.0672" x2="408.8" y2="603.0672" stroke="#000" stroke-width="1.25"/>
<circle cx="406.20" cy="594.51" r="2.0" fill="#111"/>
<line x1="423.59999999999997" y1="610.6768" x2="423.59999999999997" y2="629.7008000000001" stroke="#000" stroke-width="1.25"/>
<line x1="420.99999999999994" y1="610.6768" x2="426.2" y2="610.6768" stroke="#000" stroke-width="1.25"/>
<line x1="420.99999999999994" y1="629.7008000000001" x2="426.2" y2="629.7008000000001" stroke="#000" stroke-width="1.25"/>
<circle cx="423.60" cy="620.19" r="2.0" fill="#111"/>
<line x1="441.0" y1="635.408" x2="441.0" y2="646.8224" stroke="#000" stroke-width="1.25"/>
<line x1="438.4" y1="635.408" x2="443.6" y2="635.408" stroke="#000" stroke-width="1.25"/>
<line x1="438.4" y1="646.8224" x2="443.6" y2="646.8224" stroke="#000" stroke-width="1.25"/>
<circle cx="441.00" cy="641.12" r="2.0" fill="#111"/>
<text x="377" y="631.3" font-size="6.4" font-weight="bold" textLength="33.5" lengthAdjust="spacingAndGlyphs" fill="#111" stroke="#111" stroke-width="0.2">* p=0.0206</text>
<text x="406" y="690.2" font-size="7.6" font-weight="bold" text-anchor="middle" textLength="31" lengthAdjust="spacingAndGlyphs" fill="#111" stroke="#111" stroke-width="0.2">T315 µM</text>
<line x1="437" y1="533.8" x2="444.8" y2="533.8" stroke="#111" stroke-width="1.0"/>
<circle cx="440.8" cy="533.8" r="2.0" fill="#111"/>
<line x1="437" y1="544.6" x2="444.8" y2="544.6" stroke="#111" stroke-width="1.0"/>
<rect x="438.90" y="542.70" width="3.80" height="3.80" fill="#fff" stroke="#111" stroke-width="1.2"/>
<text x="451.6" y="536.6" font-size="8.2" textLength="16.8" lengthAdjust="spacingAndGlyphs" fill="#000" stroke="#000" stroke-width="0.25">T315</text>
<text x="451.6" y="547.4" font-size="8.2" textLength="67.5" lengthAdjust="spacingAndGlyphs" fill="#000" stroke="#000" stroke-width="0.25">T315 + Z-VAD-FMK</text>
</svg></body></html>
